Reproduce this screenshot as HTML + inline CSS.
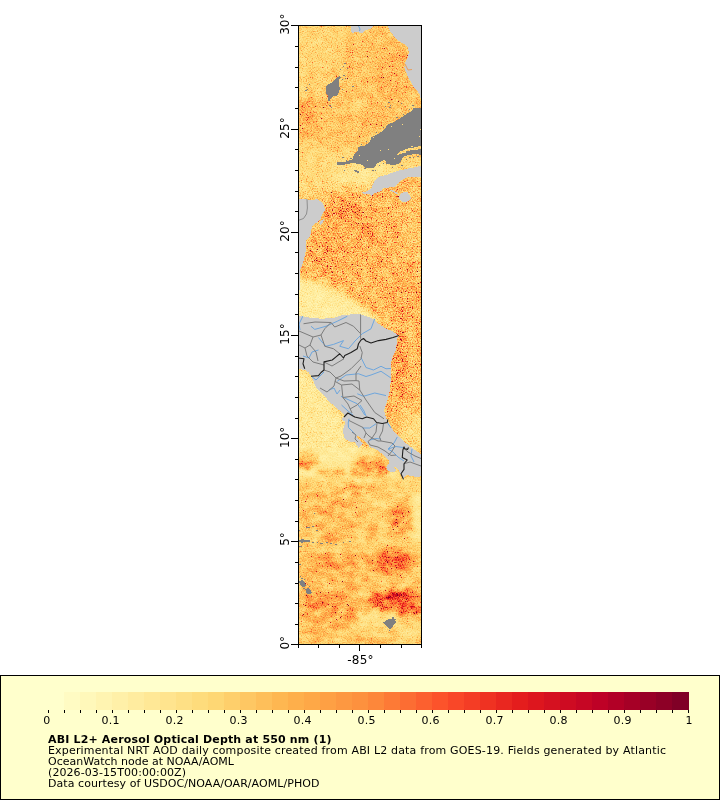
<!DOCTYPE html>
<html><head><meta charset="utf-8"><title>ABI L2+ Aerosol Optical Depth at 550 nm</title>
<style>
html,body{margin:0;padding:0;background:#fff;}
body{width:720px;height:800px;overflow:hidden;position:relative;font-family:"DejaVu Sans","Liberation Sans",sans-serif;}
svg{position:absolute;left:0;top:0;}
text{font-family:"DejaVu Sans","Liberation Sans",sans-serif;fill:#000;}
</style></head><body>
<svg width="720" height="800" viewBox="0 0 720 800">

<defs>
<clipPath id="plotclip"><rect x="298" y="25" width="124" height="620"/></clipPath>
<clipPath id="clipA"><rect x="298" y="25" width="124" height="155"/></clipPath>
<clipPath id="clipB"><rect x="298" y="180" width="124" height="268"/></clipPath>
<clipPath id="clipC"><rect x="298" y="448" width="124" height="197"/></clipPath>
<filter id="bl" x="270" y="0" width="180" height="670" filterUnits="userSpaceOnUse" color-interpolation-filters="sRGB"><feGaussianBlur stdDeviation="3.2"/></filter>
<filter id="bl2" x="270" y="0" width="180" height="670" filterUnits="userSpaceOnUse" color-interpolation-filters="sRGB"><feGaussianBlur stdDeviation="1.1"/></filter>
<filter id="palA" x="290" y="17" width="140" height="636" filterUnits="userSpaceOnUse" color-interpolation-filters="sRGB">
<feTurbulence type="fractalNoise" baseFrequency="0.8" numOctaves="1" seed="7" result="t1"/>
<feColorMatrix in="t1" type="matrix" values="1 0 0 0 0  1 0 0 0 0  1 0 0 0 0  0 0 0 0 1" result="n1"/>
<feComponentTransfer in="n1" result="n1s"><feFuncR type="table" tableValues="0.1800 0.1800 0.1800 0.1800 0.1800 0.1800 0.1875 0.2000 0.2150 0.2300 0.2500 0.2750 0.3050 0.3500 0.4125 0.5000 0.6250 0.7500 0.8500 0.8500 0.8500"/><feFuncG type="table" tableValues="0.1800 0.1800 0.1800 0.1800 0.1800 0.1800 0.1875 0.2000 0.2150 0.2300 0.2500 0.2750 0.3050 0.3500 0.4125 0.5000 0.6250 0.7500 0.8500 0.8500 0.8500"/><feFuncB type="table" tableValues="0.1800 0.1800 0.1800 0.1800 0.1800 0.1800 0.1875 0.2000 0.2150 0.2300 0.2500 0.2750 0.3050 0.3500 0.4125 0.5000 0.6250 0.7500 0.8500 0.8500 0.8500"/></feComponentTransfer>
<feTurbulence type="fractalNoise" baseFrequency="0.13" numOctaves="3" seed="11" result="t2"/>
<feColorMatrix in="t2" type="matrix" values="0 1 0 0 0  0 1 0 0 0  0 1 0 0 0  0 0 0 0 1" result="n2"/>
<feComposite in="SourceGraphic" in2="n2" operator="arithmetic" k1="0.7" k2="0.65" k3="0" k4="0" result="v1"/>
<feComposite in="v1" in2="n1s" operator="arithmetic" k1="4" k2="0" k3="0.0" k4="0" result="v2"/>
<feComponentTransfer in="v2"><feFuncR type="table" tableValues="1.0000 1.0000 0.9961 0.9961 0.9922 0.9882 0.8902 0.7412 0.5020"/><feFuncG type="table" tableValues="1.0000 0.9294 0.8510 0.6980 0.5529 0.3059 0.1020 0.0000 0.0000"/><feFuncB type="table" tableValues="0.8000 0.6275 0.4627 0.2980 0.2353 0.1647 0.1098 0.1490 0.1490"/></feComponentTransfer>
</filter>
<filter id="palB" x="290" y="17" width="140" height="636" filterUnits="userSpaceOnUse" color-interpolation-filters="sRGB">
<feTurbulence type="fractalNoise" baseFrequency="0.8" numOctaves="1" seed="7" result="t1"/>
<feColorMatrix in="t1" type="matrix" values="1 0 0 0 0  1 0 0 0 0  1 0 0 0 0  0 0 0 0 1" result="n1"/>
<feComponentTransfer in="n1" result="n1s"><feFuncR type="table" tableValues="0.1400 0.1400 0.1400 0.1400 0.1400 0.1450 0.1575 0.1725 0.1925 0.2200 0.2500 0.2850 0.3300 0.3875 0.4625 0.5500 0.6500 0.7500 0.8500 0.8500 0.8500"/><feFuncG type="table" tableValues="0.1400 0.1400 0.1400 0.1400 0.1400 0.1450 0.1575 0.1725 0.1925 0.2200 0.2500 0.2850 0.3300 0.3875 0.4625 0.5500 0.6500 0.7500 0.8500 0.8500 0.8500"/><feFuncB type="table" tableValues="0.1400 0.1400 0.1400 0.1400 0.1400 0.1450 0.1575 0.1725 0.1925 0.2200 0.2500 0.2850 0.3300 0.3875 0.4625 0.5500 0.6500 0.7500 0.8500 0.8500 0.8500"/></feComponentTransfer>
<feTurbulence type="fractalNoise" baseFrequency="0.13" numOctaves="3" seed="11" result="t2"/>
<feColorMatrix in="t2" type="matrix" values="0 1 0 0 0  0 1 0 0 0  0 1 0 0 0  0 0 0 0 1" result="n2"/>
<feComposite in="SourceGraphic" in2="n2" operator="arithmetic" k1="0.9" k2="0.55" k3="0" k4="0" result="v1"/>
<feComposite in="v1" in2="n1s" operator="arithmetic" k1="4" k2="0" k3="0.0" k4="0" result="v2"/>
<feComponentTransfer in="v2"><feFuncR type="table" tableValues="1.0000 1.0000 0.9961 0.9961 0.9922 0.9882 0.8902 0.7412 0.5020"/><feFuncG type="table" tableValues="1.0000 0.9294 0.8510 0.6980 0.5529 0.3059 0.1020 0.0000 0.0000"/><feFuncB type="table" tableValues="0.8000 0.6275 0.4627 0.2980 0.2353 0.1647 0.1098 0.1490 0.1490"/></feComponentTransfer>
</filter>
<filter id="palC" x="290" y="17" width="140" height="636" filterUnits="userSpaceOnUse" color-interpolation-filters="sRGB">
<feTurbulence type="fractalNoise" baseFrequency="0.8" numOctaves="1" seed="7" result="t1"/>
<feColorMatrix in="t1" type="matrix" values="1 0 0 0 0  1 0 0 0 0  1 0 0 0 0  0 0 0 0 1" result="n1"/>
<feComponentTransfer in="n1" result="n1s"><feFuncR type="table" tableValues="0.1900 0.1900 0.1900 0.1900 0.1900 0.1900 0.1950 0.2050 0.2175 0.2325 0.2500 0.2675 0.2875 0.3175 0.3625 0.4375 0.5500 0.7000 0.8000 0.8000 0.8000"/><feFuncG type="table" tableValues="0.1900 0.1900 0.1900 0.1900 0.1900 0.1900 0.1950 0.2050 0.2175 0.2325 0.2500 0.2675 0.2875 0.3175 0.3625 0.4375 0.5500 0.7000 0.8000 0.8000 0.8000"/><feFuncB type="table" tableValues="0.1900 0.1900 0.1900 0.1900 0.1900 0.1900 0.1950 0.2050 0.2175 0.2325 0.2500 0.2675 0.2875 0.3175 0.3625 0.4375 0.5500 0.7000 0.8000 0.8000 0.8000"/></feComponentTransfer>
<feTurbulence type="fractalNoise" baseFrequency="0.09 0.13" numOctaves="3" seed="5" result="t2"/>
<feColorMatrix in="t2" type="matrix" values="0 1 0 0 0  0 1 0 0 0  0 1 0 0 0  0 0 0 0 1" result="n2"/>
<feComposite in="SourceGraphic" in2="n2" operator="arithmetic" k1="1.1" k2="0.44999999999999996" k3="0" k4="0" result="v1"/>
<feComposite in="v1" in2="n1s" operator="arithmetic" k1="4" k2="0" k3="0.0" k4="0" result="v2"/>
<feComponentTransfer in="v2"><feFuncR type="table" tableValues="1.0000 1.0000 0.9961 0.9961 0.9922 0.9882 0.8902 0.7412 0.5020"/><feFuncG type="table" tableValues="1.0000 0.9294 0.8510 0.6980 0.5529 0.3059 0.1020 0.0000 0.0000"/><feFuncB type="table" tableValues="0.8000 0.6275 0.4627 0.2980 0.2353 0.1647 0.1098 0.1490 0.1490"/></feComponentTransfer>
</filter>
</defs>
<g clip-path="url(#plotclip)">
<defs><g id="fld"><g filter="url(#bl)">
<rect x="270" y="0" width="180" height="670" fill="#4c4c4c"/>
<rect x="290" y="15" width="150" height="150" fill="#434343"/>
<polygon points="352,15 430,15 430,112 384,124 352,146 330,158 290,165 290,98 325,96 340,70" fill="#4c4c4c"/>
<ellipse cx="394" cy="72" rx="18" ry="30" fill="#555555"/>
<ellipse cx="306" cy="116" rx="11" ry="18" fill="#5e5e5e"/>
<ellipse cx="316" cy="45" rx="20" ry="28" fill="#3e3e3e"/>
<ellipse cx="355" cy="106" rx="8" ry="7" fill="#3e3e3e"/>
<ellipse cx="376" cy="118" rx="20" ry="10" fill="#555555" transform="rotate(-25 376 118)"/>
<polygon points="290,140 335,150 370,160 425,160 425,170 400,178 370,195 330,200 290,200" fill="#3a3a3a"/>
<ellipse cx="362" cy="176" rx="34" ry="10" fill="#2a2a2a" transform="rotate(-8 362 176)"/>
<polygon points="322,187 345,184 372,186 410,172 430,172 430,200 300,200" fill="#464646"/>
<polygon points="322,197 345,193 370,195 410,178 430,178 430,330 400,335 372,312 340,300 300,280 300,270 312,226 322,214" fill="#555555"/>
<ellipse cx="415" cy="225" rx="16" ry="40" fill="#4c4c4c"/>
<ellipse cx="345" cy="212" rx="18" ry="10" fill="#6b6b6b"/>
<ellipse cx="366" cy="236" rx="10" ry="12" fill="#666666"/>
<ellipse cx="328" cy="250" rx="20" ry="25" fill="#5c5c5c"/>
<ellipse cx="405" cy="300" rx="18" ry="20" fill="#5b5b5b"/>
<polygon points="290,274 324,284 350,298 384,321 290,324" fill="#202020"/>
<polygon points="392,318 430,318 430,470 410,455 395,436 385,412 388,385 390,350" fill="#4f4f4f"/>
<ellipse cx="400" cy="365" rx="8" ry="40" fill="#666666"/>
<ellipse cx="396" cy="410" rx="8" ry="14" fill="#575757"/>
<ellipse cx="412" cy="436" rx="12" ry="24" fill="#383838"/>
<polygon points="290,370 312,376 345,416 345,440 360,445 390,462 402,480 430,480 430,500 290,500" fill="#252525"/>
<rect x="290" y="478" width="145" height="180" fill="#454545"/>
<ellipse cx="330" cy="512" rx="34" ry="22" fill="#4f4f4f"/>
<ellipse cx="332" cy="568" rx="38" ry="22" fill="#545454"/>
<ellipse cx="334" cy="608" rx="40" ry="20" fill="#595959"/>
<ellipse cx="392" cy="562" rx="25" ry="13" fill="#666666"/>
<ellipse cx="397" cy="600" rx="26" ry="12" fill="#757575"/>
<ellipse cx="401" cy="520" rx="13" ry="16" fill="#575757"/>
<ellipse cx="418" cy="515" rx="6" ry="30" fill="#262626"/>
<ellipse cx="375" cy="618" rx="20" ry="8" fill="#303030"/>
<ellipse cx="408" cy="631" rx="14" ry="8" fill="#363636"/>
<ellipse cx="306" cy="460" rx="11" ry="9" fill="#4c4c4c"/>
<ellipse cx="370" cy="467" rx="20" ry="10" fill="#525252"/>
<ellipse cx="330" cy="472" rx="14" ry="4" fill="#454545"/>
<ellipse cx="353" cy="491" rx="8" ry="8" fill="#4c4c4c"/>
</g>
<g filter="url(#bl2)">
<ellipse cx="311.7" cy="457.1" rx="5.5" ry="2.0" fill="#636363" fill-opacity="0.8" transform="rotate(-6 311.7 457.1)"/>
<ellipse cx="305.8" cy="465.2" rx="3.0" ry="2.0" fill="#6c6c6c" fill-opacity="0.8" transform="rotate(-3 305.8 465.2)"/>
<ellipse cx="298.5" cy="461.7" rx="7.7" ry="1.9" fill="#595959" fill-opacity="0.8" transform="rotate(-25 298.5 461.7)"/>
<ellipse cx="302.0" cy="460.0" rx="5.5" ry="1.6" fill="#676767" fill-opacity="0.8" transform="rotate(-25 302.0 460.0)"/>
<ellipse cx="313.1" cy="461.9" rx="6.2" ry="1.5" fill="#656565" fill-opacity="0.8" transform="rotate(10 313.1 461.9)"/>
<ellipse cx="304.0" cy="464.5" rx="6.6" ry="2.9" fill="#6e6e6e" fill-opacity="0.8" transform="rotate(-16 304.0 464.5)"/>
<ellipse cx="303.5" cy="462.4" rx="7.4" ry="2.7" fill="#6d6d6d" fill-opacity="0.8" transform="rotate(-12 303.5 462.4)"/>
<ellipse cx="302.4" cy="465.8" rx="5.1" ry="1.5" fill="#646464" fill-opacity="0.8" transform="rotate(-10 302.4 465.8)"/>
<ellipse cx="304.7" cy="460.0" rx="5.5" ry="2.6" fill="#737373" fill-opacity="0.8" transform="rotate(-12 304.7 460.0)"/>
<ellipse cx="308.7" cy="459.3" rx="3.9" ry="2.1" fill="#787878" fill-opacity="0.8" transform="rotate(9 308.7 459.3)"/>
<ellipse cx="313.5" cy="456.7" rx="5.6" ry="2.9" fill="#5c5c5c" fill-opacity="0.8" transform="rotate(-9 313.5 456.7)"/>
<ellipse cx="307.9" cy="468.3" rx="3.0" ry="2.6" fill="#5f5f5f" fill-opacity="0.8" transform="rotate(2 307.9 468.3)"/>
<ellipse cx="339.4" cy="473.4" rx="5.7" ry="1.3" fill="#545454" fill-opacity="0.8" transform="rotate(-8 339.4 473.4)"/>
<ellipse cx="320.4" cy="471.6" rx="4.6" ry="1.7" fill="#585858" fill-opacity="0.8" transform="rotate(10 320.4 471.6)"/>
<ellipse cx="328.5" cy="470.6" rx="3.1" ry="1.0" fill="#5a5a5a" fill-opacity="0.8" transform="rotate(-14 328.5 470.6)"/>
<ellipse cx="341.0" cy="472.2" rx="5.2" ry="1.2" fill="#525252" fill-opacity="0.8" transform="rotate(-34 341.0 472.2)"/>
<ellipse cx="330.3" cy="475.0" rx="5.7" ry="1.2" fill="#505050" fill-opacity="0.8" transform="rotate(5 330.3 475.0)"/>
<ellipse cx="341.4" cy="473.6" rx="6.2" ry="1.4" fill="#4e4e4e" fill-opacity="0.8" transform="rotate(9 341.4 473.6)"/>
<ellipse cx="337.1" cy="473.3" rx="4.8" ry="1.5" fill="#595959" fill-opacity="0.8" transform="rotate(-13 337.1 473.3)"/>
<ellipse cx="339.3" cy="471.1" rx="6.5" ry="1.9" fill="#585858" fill-opacity="0.8" transform="rotate(-14 339.3 471.1)"/>
<ellipse cx="360.0" cy="467.9" rx="4.8" ry="2.3" fill="#5f5f5f" fill-opacity="0.8" transform="rotate(-7 360.0 467.9)"/>
<ellipse cx="382.8" cy="462.2" rx="4.2" ry="3.0" fill="#5c5c5c" fill-opacity="0.8" transform="rotate(-14 382.8 462.2)"/>
<ellipse cx="375.3" cy="460.0" rx="6.2" ry="2.8" fill="#606060" fill-opacity="0.8" transform="rotate(-11 375.3 460.0)"/>
<ellipse cx="373.5" cy="463.0" rx="3.2" ry="2.8" fill="#6f6f6f" fill-opacity="0.8" transform="rotate(-14 373.5 463.0)"/>
<ellipse cx="378.1" cy="475.4" rx="5.0" ry="2.6" fill="#5a5a5a" fill-opacity="0.8" transform="rotate(-15 378.1 475.4)"/>
<ellipse cx="367.6" cy="469.5" rx="4.5" ry="2.1" fill="#6e6e6e" fill-opacity="0.8" transform="rotate(-18 367.6 469.5)"/>
<ellipse cx="373.2" cy="475.1" rx="6.4" ry="2.9" fill="#5e5e5e" fill-opacity="0.8" transform="rotate(4 373.2 475.1)"/>
<ellipse cx="357.2" cy="474.2" rx="7.8" ry="2.8" fill="#545454" fill-opacity="0.8" transform="rotate(-9 357.2 474.2)"/>
<ellipse cx="382.6" cy="468.5" rx="4.4" ry="1.3" fill="#616161" fill-opacity="0.8" transform="rotate(3 382.6 468.5)"/>
<ellipse cx="381.4" cy="465.2" rx="3.8" ry="1.7" fill="#626262" fill-opacity="0.8" transform="rotate(-0 381.4 465.2)"/>
<ellipse cx="374.4" cy="457.9" rx="6.6" ry="1.8" fill="#585858" fill-opacity="0.8" transform="rotate(5 374.4 457.9)"/>
<ellipse cx="353.9" cy="469.0" rx="3.2" ry="1.6" fill="#585858" fill-opacity="0.8" transform="rotate(-17 353.9 469.0)"/>
<ellipse cx="362.9" cy="476.2" rx="7.5" ry="1.9" fill="#565656" fill-opacity="0.8" transform="rotate(-14 362.9 476.2)"/>
<ellipse cx="373.6" cy="468.2" rx="6.1" ry="2.9" fill="#727272" fill-opacity="0.8" transform="rotate(-12 373.6 468.2)"/>
<ellipse cx="360.0" cy="463.0" rx="7.9" ry="2.1" fill="#5e5e5e" fill-opacity="0.8" transform="rotate(-10 360.0 463.0)"/>
<ellipse cx="373.0" cy="457.4" rx="6.1" ry="2.3" fill="#565656" fill-opacity="0.8" transform="rotate(-32 373.0 457.4)"/>
<ellipse cx="376.8" cy="464.1" rx="6.5" ry="2.5" fill="#666666" fill-opacity="0.8" transform="rotate(-34 376.8 464.1)"/>
<ellipse cx="368.3" cy="468.9" rx="4.6" ry="1.9" fill="#717171" fill-opacity="0.8" transform="rotate(-21 368.3 468.9)"/>
<ellipse cx="362.4" cy="464.5" rx="6.9" ry="1.2" fill="#6a6a6a" fill-opacity="0.8" transform="rotate(-9 362.4 464.5)"/>
<ellipse cx="359.5" cy="473.1" rx="4.2" ry="1.5" fill="#595959" fill-opacity="0.8" transform="rotate(-15 359.5 473.1)"/>
<ellipse cx="363.2" cy="463.7" rx="7.2" ry="2.0" fill="#646464" fill-opacity="0.8" transform="rotate(3 363.2 463.7)"/>
<ellipse cx="375.7" cy="474.7" rx="5.3" ry="1.6" fill="#595959" fill-opacity="0.8" transform="rotate(-30 375.7 474.7)"/>
<ellipse cx="381.7" cy="473.8" rx="3.9" ry="1.7" fill="#5b5b5b" fill-opacity="0.8" transform="rotate(1 381.7 473.8)"/>
<ellipse cx="364.1" cy="459.6" rx="4.5" ry="2.6" fill="#5b5b5b" fill-opacity="0.8" transform="rotate(-23 364.1 459.6)"/>
<ellipse cx="367.0" cy="465.2" rx="7.6" ry="1.5" fill="#7a7a7a" fill-opacity="0.8" transform="rotate(-35 367.0 465.2)"/>
<ellipse cx="388.5" cy="465.7" rx="7.8" ry="2.9" fill="#585858" fill-opacity="0.8" transform="rotate(-25 388.5 465.7)"/>
<ellipse cx="376.2" cy="467.4" rx="4.4" ry="1.8" fill="#696969" fill-opacity="0.8" transform="rotate(-25 376.2 467.4)"/>
<ellipse cx="361.9" cy="473.2" rx="3.2" ry="2.8" fill="#636363" fill-opacity="0.8" transform="rotate(-4 361.9 473.2)"/>
<ellipse cx="381.9" cy="466.8" rx="2.8" ry="1.2" fill="#8b8b8b" fill-opacity="0.8" transform="rotate(-32 381.9 466.8)"/>
<ellipse cx="386.4" cy="472.1" rx="2.4" ry="1.5" fill="#898989" fill-opacity="0.8" transform="rotate(-23 386.4 472.1)"/>
<ellipse cx="386.6" cy="472.5" rx="3.6" ry="1.2" fill="#8c8c8c" fill-opacity="0.8" transform="rotate(-21 386.6 472.5)"/>
<ellipse cx="380.7" cy="470.8" rx="3.3" ry="1.5" fill="#888888" fill-opacity="0.8" transform="rotate(-27 380.7 470.8)"/>
<ellipse cx="384.4" cy="468.4" rx="3.8" ry="1.6" fill="#a8a8a8" fill-opacity="0.8" transform="rotate(5 384.4 468.4)"/>
<ellipse cx="354.7" cy="494.4" rx="7.0" ry="2.9" fill="#626262" fill-opacity="0.8" transform="rotate(-2 354.7 494.4)"/>
<ellipse cx="352.5" cy="497.2" rx="6.2" ry="2.8" fill="#565656" fill-opacity="0.8" transform="rotate(-30 352.5 497.2)"/>
<ellipse cx="353.6" cy="492.0" rx="3.1" ry="1.6" fill="#727272" fill-opacity="0.8" transform="rotate(-22 353.6 492.0)"/>
<ellipse cx="348.2" cy="495.2" rx="3.7" ry="2.3" fill="#585858" fill-opacity="0.8" transform="rotate(-29 348.2 495.2)"/>
<ellipse cx="348.9" cy="487.0" rx="7.9" ry="2.8" fill="#5b5b5b" fill-opacity="0.8" transform="rotate(-22 348.9 487.0)"/>
<ellipse cx="355.5" cy="486.9" rx="7.7" ry="2.4" fill="#5e5e5e" fill-opacity="0.8" transform="rotate(8 355.5 486.9)"/>
<ellipse cx="351.1" cy="486.3" rx="3.7" ry="1.3" fill="#5a5a5a" fill-opacity="0.8" transform="rotate(-21 351.1 486.3)"/>
<ellipse cx="355.5" cy="488.7" rx="4.5" ry="2.7" fill="#626262" fill-opacity="0.8" transform="rotate(-13 355.5 488.7)"/>
<ellipse cx="355.9" cy="484.8" rx="7.9" ry="1.2" fill="#535353" fill-opacity="0.8" transform="rotate(-1 355.9 484.8)"/>
<ellipse cx="357.0" cy="489.1" rx="5.9" ry="1.2" fill="#5f5f5f" fill-opacity="0.8" transform="rotate(-33 357.0 489.1)"/>
<ellipse cx="345.6" cy="521.6" rx="5.4" ry="1.7" fill="#535353" fill-opacity="0.8" transform="rotate(-35 345.6 521.6)"/>
<ellipse cx="343.6" cy="505.4" rx="6.9" ry="1.7" fill="#5c5c5c" fill-opacity="0.8" transform="rotate(1 343.6 505.4)"/>
<ellipse cx="330.3" cy="516.6" rx="4.0" ry="2.2" fill="#616161" fill-opacity="0.8" transform="rotate(1 330.3 516.6)"/>
<ellipse cx="339.1" cy="522.4" rx="4.7" ry="1.4" fill="#565656" fill-opacity="0.8" transform="rotate(1 339.1 522.4)"/>
<ellipse cx="336.1" cy="502.5" rx="7.8" ry="2.3" fill="#5e5e5e" fill-opacity="0.8" transform="rotate(-26 336.1 502.5)"/>
<ellipse cx="328.9" cy="515.2" rx="6.5" ry="2.6" fill="#5e5e5e" fill-opacity="0.8" transform="rotate(9 328.9 515.2)"/>
<ellipse cx="334.1" cy="503.0" rx="5.9" ry="1.4" fill="#5d5d5d" fill-opacity="0.8" transform="rotate(5 334.1 503.0)"/>
<ellipse cx="337.8" cy="503.2" rx="4.0" ry="2.1" fill="#5d5d5d" fill-opacity="0.8" transform="rotate(-29 337.8 503.2)"/>
<ellipse cx="318.0" cy="524.6" rx="6.1" ry="1.8" fill="#515151" fill-opacity="0.8" transform="rotate(-18 318.0 524.6)"/>
<ellipse cx="323.4" cy="518.9" rx="5.0" ry="3.0" fill="#626262" fill-opacity="0.8" transform="rotate(-24 323.4 518.9)"/>
<ellipse cx="338.2" cy="524.0" rx="5.2" ry="2.7" fill="#535353" fill-opacity="0.8" transform="rotate(1 338.2 524.0)"/>
<ellipse cx="340.3" cy="506.7" rx="3.4" ry="2.5" fill="#606060" fill-opacity="0.8" transform="rotate(-23 340.3 506.7)"/>
<ellipse cx="305.4" cy="513.2" rx="4.8" ry="1.7" fill="#565656" fill-opacity="0.8" transform="rotate(-15 305.4 513.2)"/>
<ellipse cx="322.6" cy="523.7" rx="6.1" ry="1.7" fill="#535353" fill-opacity="0.8" transform="rotate(-14 322.6 523.7)"/>
<ellipse cx="320.6" cy="503.0" rx="7.0" ry="1.8" fill="#656565" fill-opacity="0.8" transform="rotate(-5 320.6 503.0)"/>
<ellipse cx="320.6" cy="513.7" rx="4.6" ry="1.9" fill="#686868" fill-opacity="0.8" transform="rotate(-13 320.6 513.7)"/>
<ellipse cx="325.0" cy="494.1" rx="3.2" ry="2.6" fill="#525252" fill-opacity="0.8" transform="rotate(-30 325.0 494.1)"/>
<ellipse cx="354.8" cy="514.1" rx="5.1" ry="2.6" fill="#515151" fill-opacity="0.8" transform="rotate(2 354.8 514.1)"/>
<ellipse cx="304.0" cy="505.0" rx="3.7" ry="2.3" fill="#535353" fill-opacity="0.8" transform="rotate(-8 304.0 505.0)"/>
<ellipse cx="336.7" cy="508.7" rx="7.5" ry="2.3" fill="#616161" fill-opacity="0.8" transform="rotate(-3 336.7 508.7)"/>
<ellipse cx="303.0" cy="514.3" rx="7.6" ry="2.8" fill="#545454" fill-opacity="0.8" transform="rotate(5 303.0 514.3)"/>
<ellipse cx="345.5" cy="496.9" rx="7.7" ry="2.8" fill="#515151" fill-opacity="0.8" transform="rotate(-15 345.5 496.9)"/>
<ellipse cx="314.6" cy="517.6" rx="3.3" ry="2.6" fill="#5b5b5b" fill-opacity="0.8" transform="rotate(9 314.6 517.6)"/>
<ellipse cx="323.8" cy="525.2" rx="3.2" ry="1.4" fill="#545454" fill-opacity="0.8" transform="rotate(2 323.8 525.2)"/>
<ellipse cx="320.2" cy="493.9" rx="8.0" ry="2.6" fill="#505050" fill-opacity="0.8" transform="rotate(8 320.2 493.9)"/>
<ellipse cx="302.7" cy="518.3" rx="3.6" ry="2.2" fill="#4e4e4e" fill-opacity="0.8" transform="rotate(-14 302.7 518.3)"/>
<ellipse cx="302.4" cy="510.7" rx="3.2" ry="2.1" fill="#515151" fill-opacity="0.8" transform="rotate(-28 302.4 510.7)"/>
<ellipse cx="332.1" cy="506.0" rx="4.1" ry="1.6" fill="#686868" fill-opacity="0.8" transform="rotate(-10 332.1 506.0)"/>
<ellipse cx="307.8" cy="503.4" rx="4.2" ry="2.2" fill="#545454" fill-opacity="0.8" transform="rotate(0 307.8 503.4)"/>
<ellipse cx="317.5" cy="505.7" rx="5.2" ry="1.9" fill="#616161" fill-opacity="0.8" transform="rotate(10 317.5 505.7)"/>
<ellipse cx="341.0" cy="515.2" rx="7.0" ry="1.9" fill="#5e5e5e" fill-opacity="0.8" transform="rotate(-5 341.0 515.2)"/>
<ellipse cx="335.5" cy="505.8" rx="3.3" ry="1.3" fill="#606060" fill-opacity="0.8" transform="rotate(-1 335.5 505.8)"/>
<ellipse cx="304.0" cy="505.2" rx="3.2" ry="2.2" fill="#535353" fill-opacity="0.8" transform="rotate(0 304.0 505.2)"/>
<ellipse cx="353.3" cy="502.6" rx="5.4" ry="2.5" fill="#515151" fill-opacity="0.8" transform="rotate(4 353.3 502.6)"/>
<ellipse cx="353.2" cy="519.0" rx="6.4" ry="2.5" fill="#4f4f4f" fill-opacity="0.8" transform="rotate(-6 353.2 519.0)"/>
<ellipse cx="310.1" cy="522.9" rx="6.9" ry="2.6" fill="#505050" fill-opacity="0.8" transform="rotate(-25 310.1 522.9)"/>
<ellipse cx="345.4" cy="518.8" rx="8.0" ry="2.5" fill="#555555" fill-opacity="0.8" transform="rotate(-4 345.4 518.8)"/>
<ellipse cx="333.7" cy="493.2" rx="4.8" ry="1.4" fill="#525252" fill-opacity="0.8" transform="rotate(8 333.7 493.2)"/>
<ellipse cx="354.9" cy="507.7" rx="7.2" ry="1.3" fill="#4f4f4f" fill-opacity="0.8" transform="rotate(-29 354.9 507.7)"/>
<ellipse cx="303.3" cy="513.3" rx="4.4" ry="1.4" fill="#555555" fill-opacity="0.8" transform="rotate(-16 303.3 513.3)"/>
<ellipse cx="321.0" cy="513.4" rx="5.8" ry="2.3" fill="#5f5f5f" fill-opacity="0.8" transform="rotate(-13 321.0 513.4)"/>
<ellipse cx="351.3" cy="498.9" rx="5.2" ry="2.7" fill="#515151" fill-opacity="0.8" transform="rotate(-9 351.3 498.9)"/>
<ellipse cx="328.8" cy="496.3" rx="6.0" ry="2.1" fill="#575757" fill-opacity="0.8" transform="rotate(4 328.8 496.3)"/>
<ellipse cx="346.7" cy="508.9" rx="7.2" ry="2.8" fill="#5e5e5e" fill-opacity="0.8" transform="rotate(-28 346.7 508.9)"/>
<ellipse cx="349.3" cy="504.2" rx="4.3" ry="1.4" fill="#565656" fill-opacity="0.8" transform="rotate(-18 349.3 504.2)"/>
<ellipse cx="303.0" cy="514.4" rx="6.8" ry="2.9" fill="#515151" fill-opacity="0.8" transform="rotate(-31 303.0 514.4)"/>
<ellipse cx="329.2" cy="526.3" rx="5.6" ry="2.6" fill="#545454" fill-opacity="0.8" transform="rotate(-13 329.2 526.3)"/>
<ellipse cx="348.5" cy="513.3" rx="7.3" ry="2.4" fill="#545454" fill-opacity="0.8" transform="rotate(1 348.5 513.3)"/>
<ellipse cx="304.6" cy="513.7" rx="6.6" ry="1.5" fill="#555555" fill-opacity="0.8" transform="rotate(-12 304.6 513.7)"/>
<ellipse cx="344.7" cy="495.1" rx="7.9" ry="2.4" fill="#4d4d4d" fill-opacity="0.8" transform="rotate(-29 344.7 495.1)"/>
<ellipse cx="396.8" cy="509.5" rx="6.3" ry="1.3" fill="#606060" fill-opacity="0.8" transform="rotate(-43 396.8 509.5)"/>
<ellipse cx="401.2" cy="506.1" rx="5.2" ry="1.3" fill="#616161" fill-opacity="0.8" transform="rotate(-65 401.2 506.1)"/>
<ellipse cx="392.0" cy="511.7" rx="6.1" ry="2.9" fill="#626262" fill-opacity="0.8" transform="rotate(-41 392.0 511.7)"/>
<ellipse cx="396.0" cy="509.3" rx="3.6" ry="1.8" fill="#626262" fill-opacity="0.8" transform="rotate(-29 396.0 509.3)"/>
<ellipse cx="404.3" cy="516.2" rx="5.7" ry="1.3" fill="#747474" fill-opacity="0.8" transform="rotate(-67 404.3 516.2)"/>
<ellipse cx="399.3" cy="514.4" rx="5.9" ry="2.0" fill="#7c7c7c" fill-opacity="0.8" transform="rotate(-55 399.3 514.4)"/>
<ellipse cx="394.9" cy="522.2" rx="5.6" ry="2.8" fill="#727272" fill-opacity="0.8" transform="rotate(-34 394.9 522.2)"/>
<ellipse cx="391.8" cy="517.5" rx="6.8" ry="1.5" fill="#646464" fill-opacity="0.8" transform="rotate(-46 391.8 517.5)"/>
<ellipse cx="407.3" cy="522.2" rx="7.4" ry="1.8" fill="#717171" fill-opacity="0.8" transform="rotate(-35 407.3 522.2)"/>
<ellipse cx="399.9" cy="530.2" rx="7.7" ry="2.1" fill="#686868" fill-opacity="0.8" transform="rotate(-37 399.9 530.2)"/>
<ellipse cx="408.7" cy="513.5" rx="4.9" ry="2.4" fill="#626262" fill-opacity="0.8" transform="rotate(-69 408.7 513.5)"/>
<ellipse cx="407.4" cy="508.9" rx="4.2" ry="1.9" fill="#5d5d5d" fill-opacity="0.8" transform="rotate(-26 407.4 508.9)"/>
<ellipse cx="402.2" cy="531.5" rx="7.1" ry="2.8" fill="#636363" fill-opacity="0.8" transform="rotate(-56 402.2 531.5)"/>
<ellipse cx="392.6" cy="510.3" rx="4.2" ry="1.6" fill="#5b5b5b" fill-opacity="0.8" transform="rotate(-46 392.6 510.3)"/>
<ellipse cx="397.9" cy="522.0" rx="7.8" ry="2.4" fill="#7e7e7e" fill-opacity="0.8" transform="rotate(-44 397.9 522.0)"/>
<ellipse cx="407.7" cy="531.2" rx="7.0" ry="1.9" fill="#5e5e5e" fill-opacity="0.8" transform="rotate(-50 407.7 531.2)"/>
<ellipse cx="394.0" cy="509.9" rx="4.7" ry="1.3" fill="#5c5c5c" fill-opacity="0.8" transform="rotate(-70 394.0 509.9)"/>
<ellipse cx="397.7" cy="505.8" rx="7.4" ry="2.3" fill="#5a5a5a" fill-opacity="0.8" transform="rotate(-63 397.7 505.8)"/>
<ellipse cx="397.7" cy="508.7" rx="7.2" ry="3.0" fill="#606060" fill-opacity="0.8" transform="rotate(-47 397.7 508.7)"/>
<ellipse cx="391.5" cy="515.3" rx="4.3" ry="2.7" fill="#646464" fill-opacity="0.8" transform="rotate(-62 391.5 515.3)"/>
<ellipse cx="401.7" cy="509.4" rx="5.7" ry="1.2" fill="#6e6e6e" fill-opacity="0.8" transform="rotate(-44 401.7 509.4)"/>
<ellipse cx="405.7" cy="512.8" rx="4.8" ry="1.5" fill="#6f6f6f" fill-opacity="0.8" transform="rotate(-31 405.7 512.8)"/>
<ellipse cx="396.9" cy="511.7" rx="7.1" ry="3.0" fill="#707070" fill-opacity="0.8" transform="rotate(-27 396.9 511.7)"/>
<ellipse cx="406.8" cy="511.8" rx="5.6" ry="1.8" fill="#626262" fill-opacity="0.8" transform="rotate(-69 406.8 511.8)"/>
<ellipse cx="395.2" cy="525.8" rx="7.8" ry="2.0" fill="#747474" fill-opacity="0.8" transform="rotate(-23 395.2 525.8)"/>
<ellipse cx="397.8" cy="511.6" rx="4.1" ry="1.6" fill="#707070" fill-opacity="0.8" transform="rotate(-60 397.8 511.6)"/>
<ellipse cx="306.6" cy="575.4" rx="3.4" ry="1.6" fill="#555555" fill-opacity="0.8" transform="rotate(10 306.6 575.4)"/>
<ellipse cx="329.2" cy="566.3" rx="5.5" ry="1.5" fill="#656565" fill-opacity="0.8" transform="rotate(2 329.2 566.3)"/>
<ellipse cx="325.7" cy="582.5" rx="4.9" ry="1.4" fill="#545454" fill-opacity="0.8" transform="rotate(-23 325.7 582.5)"/>
<ellipse cx="340.2" cy="563.6" rx="6.3" ry="1.8" fill="#666666" fill-opacity="0.8" transform="rotate(-4 340.2 563.6)"/>
<ellipse cx="359.3" cy="570.9" rx="3.7" ry="1.3" fill="#545454" fill-opacity="0.8" transform="rotate(8 359.3 570.9)"/>
<ellipse cx="362.3" cy="570.8" rx="6.6" ry="2.8" fill="#555555" fill-opacity="0.8" transform="rotate(-22 362.3 570.8)"/>
<ellipse cx="307.2" cy="577.5" rx="3.5" ry="2.4" fill="#565656" fill-opacity="0.8" transform="rotate(-3 307.2 577.5)"/>
<ellipse cx="332.2" cy="557.1" rx="3.8" ry="2.2" fill="#5c5c5c" fill-opacity="0.8" transform="rotate(-12 332.2 557.1)"/>
<ellipse cx="332.5" cy="575.2" rx="4.1" ry="1.6" fill="#606060" fill-opacity="0.8" transform="rotate(-34 332.5 575.2)"/>
<ellipse cx="326.8" cy="563.6" rx="7.2" ry="2.8" fill="#636363" fill-opacity="0.8" transform="rotate(-27 326.8 563.6)"/>
<ellipse cx="311.7" cy="577.6" rx="4.5" ry="1.2" fill="#545454" fill-opacity="0.8" transform="rotate(-1 311.7 577.6)"/>
<ellipse cx="327.6" cy="558.3" rx="5.1" ry="2.0" fill="#5e5e5e" fill-opacity="0.8" transform="rotate(-16 327.6 558.3)"/>
<ellipse cx="305.2" cy="568.8" rx="4.8" ry="2.7" fill="#5a5a5a" fill-opacity="0.8" transform="rotate(-12 305.2 568.8)"/>
<ellipse cx="307.5" cy="563.9" rx="5.9" ry="2.5" fill="#565656" fill-opacity="0.8" transform="rotate(-19 307.5 563.9)"/>
<ellipse cx="354.8" cy="557.6" rx="7.4" ry="1.3" fill="#575757" fill-opacity="0.8" transform="rotate(8 354.8 557.6)"/>
<ellipse cx="337.4" cy="556.4" rx="7.8" ry="2.0" fill="#5b5b5b" fill-opacity="0.8" transform="rotate(-31 337.4 556.4)"/>
<ellipse cx="330.2" cy="555.6" rx="3.6" ry="2.2" fill="#575757" fill-opacity="0.8" transform="rotate(-15 330.2 555.6)"/>
<ellipse cx="347.3" cy="575.8" rx="5.4" ry="1.9" fill="#585858" fill-opacity="0.8" transform="rotate(-19 347.3 575.8)"/>
<ellipse cx="328.3" cy="553.9" rx="6.6" ry="2.5" fill="#545454" fill-opacity="0.8" transform="rotate(-7 328.3 553.9)"/>
<ellipse cx="327.4" cy="553.4" rx="7.8" ry="2.6" fill="#545454" fill-opacity="0.8" transform="rotate(-12 327.4 553.4)"/>
<ellipse cx="313.6" cy="568.9" rx="6.7" ry="2.4" fill="#626262" fill-opacity="0.8" transform="rotate(-35 313.6 568.9)"/>
<ellipse cx="348.5" cy="583.4" rx="7.9" ry="1.6" fill="#535353" fill-opacity="0.8" transform="rotate(-22 348.5 583.4)"/>
<ellipse cx="323.1" cy="583.9" rx="7.3" ry="2.1" fill="#545454" fill-opacity="0.8" transform="rotate(-7 323.1 583.9)"/>
<ellipse cx="318.1" cy="580.4" rx="4.0" ry="1.9" fill="#565656" fill-opacity="0.8" transform="rotate(8 318.1 580.4)"/>
<ellipse cx="317.8" cy="572.1" rx="7.2" ry="2.4" fill="#656565" fill-opacity="0.8" transform="rotate(7 317.8 572.1)"/>
<ellipse cx="339.1" cy="563.0" rx="5.1" ry="2.1" fill="#676767" fill-opacity="0.8" transform="rotate(-11 339.1 563.0)"/>
<ellipse cx="302.7" cy="576.4" rx="4.4" ry="2.0" fill="#4f4f4f" fill-opacity="0.8" transform="rotate(-30 302.7 576.4)"/>
<ellipse cx="317.8" cy="579.0" rx="5.5" ry="1.7" fill="#575757" fill-opacity="0.8" transform="rotate(5 317.8 579.0)"/>
<ellipse cx="348.8" cy="559.0" rx="7.1" ry="2.3" fill="#5a5a5a" fill-opacity="0.8" transform="rotate(2 348.8 559.0)"/>
<ellipse cx="352.0" cy="564.0" rx="6.3" ry="2.6" fill="#606060" fill-opacity="0.8" transform="rotate(10 352.0 564.0)"/>
<ellipse cx="307.3" cy="572.0" rx="6.4" ry="1.4" fill="#5b5b5b" fill-opacity="0.8" transform="rotate(-14 307.3 572.0)"/>
<ellipse cx="339.3" cy="581.1" rx="6.3" ry="1.8" fill="#5b5b5b" fill-opacity="0.8" transform="rotate(-33 339.3 581.1)"/>
<ellipse cx="342.4" cy="563.2" rx="7.1" ry="2.7" fill="#636363" fill-opacity="0.8" transform="rotate(-2 342.4 563.2)"/>
<ellipse cx="318.2" cy="562.9" rx="4.6" ry="2.1" fill="#616161" fill-opacity="0.8" transform="rotate(-30 318.2 562.9)"/>
<ellipse cx="308.9" cy="559.2" rx="4.9" ry="2.0" fill="#525252" fill-opacity="0.8" transform="rotate(0 308.9 559.2)"/>
<ellipse cx="317.9" cy="556.4" rx="6.7" ry="1.4" fill="#595959" fill-opacity="0.8" transform="rotate(-33 317.9 556.4)"/>
<ellipse cx="354.1" cy="570.1" rx="4.6" ry="2.8" fill="#5b5b5b" fill-opacity="0.8" transform="rotate(-2 354.1 570.1)"/>
<ellipse cx="320.2" cy="564.7" rx="3.8" ry="2.6" fill="#686868" fill-opacity="0.8" transform="rotate(-32 320.2 564.7)"/>
<ellipse cx="339.7" cy="564.9" rx="7.7" ry="2.2" fill="#6d6d6d" fill-opacity="0.8" transform="rotate(5 339.7 564.9)"/>
<ellipse cx="364.9" cy="567.6" rx="4.8" ry="2.7" fill="#525252" fill-opacity="0.8" transform="rotate(-11 364.9 567.6)"/>
<ellipse cx="330.4" cy="554.6" rx="7.2" ry="2.1" fill="#5b5b5b" fill-opacity="0.8" transform="rotate(9 330.4 554.6)"/>
<ellipse cx="317.7" cy="557.8" rx="5.6" ry="2.6" fill="#585858" fill-opacity="0.8" transform="rotate(2 317.7 557.8)"/>
<ellipse cx="324.8" cy="551.3" rx="4.9" ry="2.9" fill="#525252" fill-opacity="0.8" transform="rotate(-19 324.8 551.3)"/>
<ellipse cx="307.7" cy="574.8" rx="3.4" ry="1.5" fill="#585858" fill-opacity="0.8" transform="rotate(-9 307.7 574.8)"/>
<ellipse cx="326.9" cy="572.7" rx="7.8" ry="1.4" fill="#626262" fill-opacity="0.8" transform="rotate(10 326.9 572.7)"/>
<ellipse cx="322.4" cy="584.1" rx="6.3" ry="2.1" fill="#515151" fill-opacity="0.8" transform="rotate(-27 322.4 584.1)"/>
<ellipse cx="321.5" cy="563.4" rx="7.0" ry="1.9" fill="#5c5c5c" fill-opacity="0.8" transform="rotate(-7 321.5 563.4)"/>
<ellipse cx="346.3" cy="582.1" rx="4.6" ry="1.3" fill="#525252" fill-opacity="0.8" transform="rotate(-25 346.3 582.1)"/>
<ellipse cx="336.2" cy="560.9" rx="6.2" ry="2.6" fill="#656565" fill-opacity="0.8" transform="rotate(0 336.2 560.9)"/>
<ellipse cx="315.7" cy="580.3" rx="4.4" ry="2.7" fill="#555555" fill-opacity="0.8" transform="rotate(-15 315.7 580.3)"/>
<ellipse cx="342.5" cy="562.3" rx="5.9" ry="2.5" fill="#626262" fill-opacity="0.8" transform="rotate(-19 342.5 562.3)"/>
<ellipse cx="330.0" cy="563.8" rx="5.7" ry="2.5" fill="#666666" fill-opacity="0.8" transform="rotate(-27 330.0 563.8)"/>
<ellipse cx="349.6" cy="557.8" rx="6.2" ry="1.7" fill="#545454" fill-opacity="0.8" transform="rotate(5 349.6 557.8)"/>
<ellipse cx="312.4" cy="561.3" rx="7.9" ry="2.5" fill="#5b5b5b" fill-opacity="0.8" transform="rotate(-2 312.4 561.3)"/>
<ellipse cx="320.4" cy="580.8" rx="5.1" ry="2.8" fill="#565656" fill-opacity="0.8" transform="rotate(-35 320.4 580.8)"/>
<ellipse cx="332.7" cy="567.3" rx="7.9" ry="2.5" fill="#757575" fill-opacity="0.8" transform="rotate(9 332.7 567.3)"/>
<ellipse cx="308.0" cy="555.3" rx="6.5" ry="2.9" fill="#505050" fill-opacity="0.8" transform="rotate(-5 308.0 555.3)"/>
<ellipse cx="342.7" cy="559.1" rx="6.5" ry="1.6" fill="#5a5a5a" fill-opacity="0.8" transform="rotate(-34 342.7 559.1)"/>
<ellipse cx="345.3" cy="558.1" rx="5.0" ry="2.4" fill="#5b5b5b" fill-opacity="0.8" transform="rotate(-23 345.3 558.1)"/>
<ellipse cx="325.6" cy="557.5" rx="6.5" ry="2.5" fill="#5f5f5f" fill-opacity="0.8" transform="rotate(-26 325.6 557.5)"/>
<ellipse cx="388.3" cy="558.7" rx="3.7" ry="2.8" fill="#989898" fill-opacity="0.8" transform="rotate(-35 388.3 558.7)"/>
<ellipse cx="370.7" cy="563.4" rx="6.1" ry="1.3" fill="#717171" fill-opacity="0.8" transform="rotate(-18 370.7 563.4)"/>
<ellipse cx="400.4" cy="553.1" rx="4.2" ry="1.4" fill="#757575" fill-opacity="0.8" transform="rotate(-12 400.4 553.1)"/>
<ellipse cx="402.6" cy="559.0" rx="6.7" ry="1.4" fill="#848484" fill-opacity="0.8" transform="rotate(-22 402.6 559.0)"/>
<ellipse cx="386.4" cy="551.3" rx="4.3" ry="1.6" fill="#6f6f6f" fill-opacity="0.8" transform="rotate(-22 386.4 551.3)"/>
<ellipse cx="369.5" cy="558.8" rx="5.5" ry="1.2" fill="#686868" fill-opacity="0.8" transform="rotate(-16 369.5 558.8)"/>
<ellipse cx="394.5" cy="552.2" rx="5.9" ry="2.8" fill="#6c6c6c" fill-opacity="0.8" transform="rotate(-26 394.5 552.2)"/>
<ellipse cx="391.8" cy="549.5" rx="3.4" ry="2.1" fill="#676767" fill-opacity="0.8" transform="rotate(6 391.8 549.5)"/>
<ellipse cx="396.4" cy="551.4" rx="5.9" ry="1.5" fill="#6c6c6c" fill-opacity="0.8" transform="rotate(-8 396.4 551.4)"/>
<ellipse cx="392.5" cy="564.8" rx="3.7" ry="1.7" fill="#9c9c9c" fill-opacity="0.8" transform="rotate(10 392.5 564.8)"/>
<ellipse cx="399.5" cy="573.7" rx="4.2" ry="2.3" fill="#696969" fill-opacity="0.8" transform="rotate(-33 399.5 573.7)"/>
<ellipse cx="394.2" cy="569.1" rx="3.4" ry="1.8" fill="#818181" fill-opacity="0.8" transform="rotate(4 394.2 569.1)"/>
<ellipse cx="385.5" cy="574.6" rx="5.9" ry="1.2" fill="#666666" fill-opacity="0.8" transform="rotate(1 385.5 574.6)"/>
<ellipse cx="376.8" cy="560.5" rx="4.6" ry="1.4" fill="#7e7e7e" fill-opacity="0.8" transform="rotate(-7 376.8 560.5)"/>
<ellipse cx="404.1" cy="561.9" rx="6.5" ry="1.6" fill="#7a7a7a" fill-opacity="0.8" transform="rotate(-2 404.1 561.9)"/>
<ellipse cx="411.3" cy="559.4" rx="4.9" ry="2.7" fill="#666666" fill-opacity="0.8" transform="rotate(-18 411.3 559.4)"/>
<ellipse cx="405.8" cy="555.7" rx="3.3" ry="3.0" fill="#787878" fill-opacity="0.8" transform="rotate(-27 405.8 555.7)"/>
<ellipse cx="394.9" cy="549.3" rx="3.3" ry="1.6" fill="#6c6c6c" fill-opacity="0.8" transform="rotate(-18 394.9 549.3)"/>
<ellipse cx="383.3" cy="552.7" rx="5.8" ry="1.4" fill="#777777" fill-opacity="0.8" transform="rotate(-31 383.3 552.7)"/>
<ellipse cx="370.0" cy="560.7" rx="6.5" ry="2.6" fill="#6c6c6c" fill-opacity="0.8" transform="rotate(-18 370.0 560.7)"/>
<ellipse cx="399.9" cy="569.1" rx="7.4" ry="2.1" fill="#757575" fill-opacity="0.8" transform="rotate(-31 399.9 569.1)"/>
<ellipse cx="375.0" cy="565.4" rx="3.4" ry="2.6" fill="#717171" fill-opacity="0.8" transform="rotate(-25 375.0 565.4)"/>
<ellipse cx="388.0" cy="563.5" rx="4.9" ry="1.5" fill="#a7a7a7" fill-opacity="0.8" transform="rotate(-13 388.0 563.5)"/>
<ellipse cx="392.0" cy="562.6" rx="5.7" ry="2.8" fill="#a2a2a2" fill-opacity="0.8" transform="rotate(-32 392.0 562.6)"/>
<ellipse cx="380.8" cy="567.8" rx="6.6" ry="1.4" fill="#7e7e7e" fill-opacity="0.8" transform="rotate(-4 380.8 567.8)"/>
<ellipse cx="396.3" cy="550.4" rx="6.0" ry="1.9" fill="#6e6e6e" fill-opacity="0.8" transform="rotate(5 396.3 550.4)"/>
<ellipse cx="400.6" cy="565.2" rx="7.4" ry="1.3" fill="#888888" fill-opacity="0.8" transform="rotate(-8 400.6 565.2)"/>
<ellipse cx="385.7" cy="550.8" rx="3.9" ry="2.3" fill="#6b6b6b" fill-opacity="0.8" transform="rotate(-27 385.7 550.8)"/>
<ellipse cx="388.6" cy="562.9" rx="3.1" ry="2.6" fill="#a0a0a0" fill-opacity="0.8" transform="rotate(-20 388.6 562.9)"/>
<ellipse cx="410.9" cy="564.3" rx="7.9" ry="3.0" fill="#696969" fill-opacity="0.8" transform="rotate(2 410.9 564.3)"/>
<ellipse cx="377.6" cy="569.3" rx="4.0" ry="1.6" fill="#777777" fill-opacity="0.8" transform="rotate(-30 377.6 569.3)"/>
<ellipse cx="411.9" cy="558.7" rx="6.7" ry="2.0" fill="#696969" fill-opacity="0.8" transform="rotate(-12 411.9 558.7)"/>
<ellipse cx="377.9" cy="555.7" rx="5.6" ry="1.6" fill="#767676" fill-opacity="0.8" transform="rotate(-15 377.9 555.7)"/>
<ellipse cx="371.7" cy="569.8" rx="3.3" ry="1.7" fill="#646464" fill-opacity="0.8" transform="rotate(3 371.7 569.8)"/>
<ellipse cx="369.7" cy="556.2" rx="4.5" ry="2.6" fill="#6c6c6c" fill-opacity="0.8" transform="rotate(9 369.7 556.2)"/>
<ellipse cx="371.3" cy="557.3" rx="4.2" ry="2.3" fill="#717171" fill-opacity="0.8" transform="rotate(-13 371.3 557.3)"/>
<ellipse cx="385.4" cy="554.4" rx="4.4" ry="2.0" fill="#7e7e7e" fill-opacity="0.8" transform="rotate(-8 385.4 554.4)"/>
<ellipse cx="375.6" cy="559.5" rx="4.6" ry="1.5" fill="#7b7b7b" fill-opacity="0.8" transform="rotate(-11 375.6 559.5)"/>
<ellipse cx="397.3" cy="552.6" rx="6.1" ry="1.8" fill="#777777" fill-opacity="0.8" transform="rotate(-15 397.3 552.6)"/>
<ellipse cx="407.6" cy="568.1" rx="4.1" ry="2.2" fill="#6c6c6c" fill-opacity="0.8" transform="rotate(-20 407.6 568.1)"/>
<ellipse cx="388.6" cy="571.5" rx="4.6" ry="2.7" fill="#767676" fill-opacity="0.8" transform="rotate(-12 388.6 571.5)"/>
<ellipse cx="380.1" cy="562.9" rx="3.4" ry="1.2" fill="#7d7d7d" fill-opacity="0.8" transform="rotate(6 380.1 562.9)"/>
<ellipse cx="396.9" cy="559.3" rx="7.4" ry="2.1" fill="#909090" fill-opacity="0.8" transform="rotate(-29 396.9 559.3)"/>
<ellipse cx="379.4" cy="557.3" rx="4.9" ry="1.5" fill="#868686" fill-opacity="0.8" transform="rotate(-7 379.4 557.3)"/>
<ellipse cx="367.9" cy="561.4" rx="7.3" ry="2.4" fill="#676767" fill-opacity="0.8" transform="rotate(6 367.9 561.4)"/>
<ellipse cx="373.6" cy="560.7" rx="6.4" ry="1.6" fill="#787878" fill-opacity="0.8" transform="rotate(-20 373.6 560.7)"/>
<ellipse cx="402.9" cy="560.7" rx="3.7" ry="1.2" fill="#c2c2c2" fill-opacity="0.8" transform="rotate(2 402.9 560.7)"/>
<ellipse cx="397.9" cy="562.4" rx="3.0" ry="1.2" fill="#a1a1a1" fill-opacity="0.8" transform="rotate(8 397.9 562.4)"/>
<ellipse cx="406.3" cy="563.9" rx="3.1" ry="1.3" fill="#9f9f9f" fill-opacity="0.8" transform="rotate(-5 406.3 563.9)"/>
<ellipse cx="403.9" cy="555.4" rx="4.3" ry="2.0" fill="#979797" fill-opacity="0.8" transform="rotate(9 403.9 555.4)"/>
<ellipse cx="407.3" cy="558.5" rx="3.1" ry="1.9" fill="#929292" fill-opacity="0.8" transform="rotate(-21 407.3 558.5)"/>
<ellipse cx="396.8" cy="563.5" rx="4.5" ry="1.2" fill="#929292" fill-opacity="0.8" transform="rotate(-25 396.8 563.5)"/>
<ellipse cx="402.0" cy="567.7" rx="4.0" ry="1.5" fill="#a1a1a1" fill-opacity="0.8" transform="rotate(3 402.0 567.7)"/>
<ellipse cx="400.5" cy="563.8" rx="2.3" ry="1.8" fill="#b1b1b1" fill-opacity="0.8" transform="rotate(-31 400.5 563.8)"/>
<ellipse cx="407.4" cy="560.8" rx="3.2" ry="1.2" fill="#939393" fill-opacity="0.8" transform="rotate(-23 407.4 560.8)"/>
<ellipse cx="397.4" cy="561.2" rx="2.5" ry="1.6" fill="#9e9e9e" fill-opacity="0.8" transform="rotate(2 397.4 561.2)"/>
<ellipse cx="392.7" cy="601.2" rx="7.6" ry="2.0" fill="#b4b4b4" fill-opacity="0.8" transform="rotate(-12 392.7 601.2)"/>
<ellipse cx="395.6" cy="602.6" rx="7.0" ry="1.4" fill="#a8a8a8" fill-opacity="0.8" transform="rotate(-21 395.6 602.6)"/>
<ellipse cx="404.3" cy="590.8" rx="7.9" ry="2.9" fill="#757575" fill-opacity="0.8" transform="rotate(-6 404.3 590.8)"/>
<ellipse cx="371.7" cy="600.6" rx="3.3" ry="1.5" fill="#7b7b7b" fill-opacity="0.8" transform="rotate(-24 371.7 600.6)"/>
<ellipse cx="392.1" cy="606.8" rx="5.6" ry="2.4" fill="#909090" fill-opacity="0.8" transform="rotate(-13 392.1 606.8)"/>
<ellipse cx="405.0" cy="596.3" rx="4.1" ry="1.7" fill="#9c9c9c" fill-opacity="0.8" transform="rotate(-32 405.0 596.3)"/>
<ellipse cx="411.6" cy="597.7" rx="7.8" ry="2.7" fill="#8f8f8f" fill-opacity="0.8" transform="rotate(-35 411.6 597.7)"/>
<ellipse cx="393.6" cy="609.6" rx="5.0" ry="1.3" fill="#797979" fill-opacity="0.8" transform="rotate(-7 393.6 609.6)"/>
<ellipse cx="375.2" cy="596.7" rx="7.8" ry="2.6" fill="#7b7b7b" fill-opacity="0.8" transform="rotate(-30 375.2 596.7)"/>
<ellipse cx="379.5" cy="601.2" rx="5.2" ry="1.5" fill="#8f8f8f" fill-opacity="0.8" transform="rotate(-2 379.5 601.2)"/>
<ellipse cx="376.6" cy="598.4" rx="4.1" ry="1.7" fill="#898989" fill-opacity="0.8" transform="rotate(9 376.6 598.4)"/>
<ellipse cx="413.5" cy="594.2" rx="5.0" ry="2.7" fill="#828282" fill-opacity="0.8" transform="rotate(-6 413.5 594.2)"/>
<ellipse cx="381.2" cy="595.2" rx="6.9" ry="1.8" fill="#828282" fill-opacity="0.8" transform="rotate(-22 381.2 595.2)"/>
<ellipse cx="399.0" cy="594.9" rx="6.0" ry="1.9" fill="#a2a2a2" fill-opacity="0.8" transform="rotate(-15 399.0 594.9)"/>
<ellipse cx="398.6" cy="607.3" rx="3.9" ry="1.5" fill="#8b8b8b" fill-opacity="0.8" transform="rotate(6 398.6 607.3)"/>
<ellipse cx="380.1" cy="604.8" rx="7.7" ry="1.6" fill="#8d8d8d" fill-opacity="0.8" transform="rotate(8 380.1 604.8)"/>
<ellipse cx="391.2" cy="592.1" rx="3.2" ry="2.9" fill="#858585" fill-opacity="0.8" transform="rotate(-24 391.2 592.1)"/>
<ellipse cx="410.5" cy="601.9" rx="4.5" ry="1.5" fill="#888888" fill-opacity="0.8" transform="rotate(-3 410.5 601.9)"/>
<ellipse cx="397.8" cy="607.0" rx="6.1" ry="1.7" fill="#848484" fill-opacity="0.8" transform="rotate(6 397.8 607.0)"/>
<ellipse cx="383.9" cy="598.9" rx="3.3" ry="1.5" fill="#9b9b9b" fill-opacity="0.8" transform="rotate(-18 383.9 598.9)"/>
<ellipse cx="388.4" cy="607.8" rx="7.9" ry="2.4" fill="#818181" fill-opacity="0.8" transform="rotate(-4 388.4 607.8)"/>
<ellipse cx="414.7" cy="604.0" rx="7.8" ry="1.2" fill="#838383" fill-opacity="0.8" transform="rotate(-6 414.7 604.0)"/>
<ellipse cx="374.6" cy="600.9" rx="6.7" ry="2.8" fill="#898989" fill-opacity="0.8" transform="rotate(-2 374.6 600.9)"/>
<ellipse cx="414.9" cy="597.0" rx="6.4" ry="2.8" fill="#858585" fill-opacity="0.8" transform="rotate(4 414.9 597.0)"/>
<ellipse cx="412.4" cy="601.5" rx="6.1" ry="1.9" fill="#878787" fill-opacity="0.8" transform="rotate(-9 412.4 601.5)"/>
<ellipse cx="413.2" cy="604.6" rx="4.9" ry="2.5" fill="#868686" fill-opacity="0.8" transform="rotate(-9 413.2 604.6)"/>
<ellipse cx="375.0" cy="605.0" rx="3.1" ry="2.3" fill="#7e7e7e" fill-opacity="0.8" transform="rotate(-13 375.0 605.0)"/>
<ellipse cx="394.9" cy="602.3" rx="7.6" ry="1.7" fill="#adadad" fill-opacity="0.8" transform="rotate(-34 394.9 602.3)"/>
<ellipse cx="380.7" cy="593.4" rx="7.5" ry="2.4" fill="#818181" fill-opacity="0.8" transform="rotate(-15 380.7 593.4)"/>
<ellipse cx="403.0" cy="594.0" rx="5.2" ry="2.7" fill="#929292" fill-opacity="0.8" transform="rotate(6 403.0 594.0)"/>
<ellipse cx="399.0" cy="596.3" rx="3.7" ry="2.1" fill="#aeaeae" fill-opacity="0.8" transform="rotate(3 399.0 596.3)"/>
<ellipse cx="379.1" cy="599.0" rx="4.4" ry="1.6" fill="#929292" fill-opacity="0.8" transform="rotate(-16 379.1 599.0)"/>
<ellipse cx="386.1" cy="606.8" rx="7.9" ry="2.0" fill="#8b8b8b" fill-opacity="0.8" transform="rotate(-32 386.1 606.8)"/>
<ellipse cx="398.4" cy="596.2" rx="7.0" ry="1.2" fill="#9c9c9c" fill-opacity="0.8" transform="rotate(-29 398.4 596.2)"/>
<ellipse cx="410.8" cy="594.7" rx="3.7" ry="1.3" fill="#868686" fill-opacity="0.8" transform="rotate(-7 410.8 594.7)"/>
<ellipse cx="402.4" cy="606.1" rx="7.8" ry="2.4" fill="#8b8b8b" fill-opacity="0.8" transform="rotate(-26 402.4 606.1)"/>
<ellipse cx="371.5" cy="599.4" rx="6.6" ry="1.5" fill="#7d7d7d" fill-opacity="0.8" transform="rotate(-23 371.5 599.4)"/>
<ellipse cx="396.0" cy="602.3" rx="6.8" ry="1.9" fill="#b6b6b6" fill-opacity="0.8" transform="rotate(1 396.0 602.3)"/>
<ellipse cx="415.8" cy="604.4" rx="3.6" ry="2.0" fill="#7a7a7a" fill-opacity="0.8" transform="rotate(-7 415.8 604.4)"/>
<ellipse cx="398.3" cy="607.6" rx="7.0" ry="2.9" fill="#878787" fill-opacity="0.8" transform="rotate(-14 398.3 607.6)"/>
<ellipse cx="405.7" cy="606.4" rx="6.2" ry="2.5" fill="#939393" fill-opacity="0.8" transform="rotate(-25 405.7 606.4)"/>
<ellipse cx="417.9" cy="600.7" rx="7.0" ry="1.8" fill="#7b7b7b" fill-opacity="0.8" transform="rotate(6 417.9 600.7)"/>
<ellipse cx="375.0" cy="598.8" rx="5.8" ry="2.6" fill="#868686" fill-opacity="0.8" transform="rotate(-13 375.0 598.8)"/>
<ellipse cx="379.3" cy="596.7" rx="6.9" ry="1.5" fill="#909090" fill-opacity="0.8" transform="rotate(-28 379.3 596.7)"/>
<ellipse cx="411.3" cy="603.8" rx="7.7" ry="2.1" fill="#828282" fill-opacity="0.8" transform="rotate(8 411.3 603.8)"/>
<ellipse cx="396.3" cy="595.8" rx="6.6" ry="2.3" fill="#ababab" fill-opacity="0.8" transform="rotate(-11 396.3 595.8)"/>
<ellipse cx="382.6" cy="598.3" rx="3.3" ry="1.1" fill="#d6d6d6" fill-opacity="0.8" transform="rotate(-35 382.6 598.3)"/>
<ellipse cx="388.0" cy="598.5" rx="3.2" ry="1.6" fill="#c2c2c2" fill-opacity="0.8" transform="rotate(-5 388.0 598.5)"/>
<ellipse cx="376.2" cy="598.5" rx="2.7" ry="1.4" fill="#b6b6b6" fill-opacity="0.8" transform="rotate(3 376.2 598.5)"/>
<ellipse cx="389.6" cy="597.1" rx="2.2" ry="2.0" fill="#bebebe" fill-opacity="0.8" transform="rotate(8 389.6 597.1)"/>
<ellipse cx="377.2" cy="595.5" rx="3.2" ry="1.2" fill="#bbbbbb" fill-opacity="0.8" transform="rotate(-4 377.2 595.5)"/>
<ellipse cx="388.1" cy="596.2" rx="2.8" ry="1.6" fill="#c3c3c3" fill-opacity="0.8" transform="rotate(-14 388.1 596.2)"/>
<ellipse cx="380.7" cy="595.9" rx="3.4" ry="1.7" fill="#d1d1d1" fill-opacity="0.8" transform="rotate(-30 380.7 595.9)"/>
<ellipse cx="383.2" cy="599.5" rx="3.0" ry="1.0" fill="#cacaca" fill-opacity="0.8" transform="rotate(2 383.2 599.5)"/>
<ellipse cx="378.6" cy="596.4" rx="2.8" ry="1.8" fill="#cacaca" fill-opacity="0.8" transform="rotate(-30 378.6 596.4)"/>
<ellipse cx="379.4" cy="595.8" rx="3.3" ry="1.1" fill="#c9c9c9" fill-opacity="0.8" transform="rotate(-14 379.4 595.8)"/>
<ellipse cx="406.2" cy="609.2" rx="6.4" ry="2.7" fill="#a0a0a0" fill-opacity="0.8" transform="rotate(-53 406.2 609.2)"/>
<ellipse cx="405.5" cy="609.8" rx="3.7" ry="2.2" fill="#9e9e9e" fill-opacity="0.8" transform="rotate(-51 405.5 609.8)"/>
<ellipse cx="417.8" cy="608.3" rx="3.1" ry="1.7" fill="#a8a8a8" fill-opacity="0.8" transform="rotate(-54 417.8 608.3)"/>
<ellipse cx="417.1" cy="610.9" rx="6.7" ry="2.9" fill="#9a9a9a" fill-opacity="0.8" transform="rotate(-28 417.1 610.9)"/>
<ellipse cx="410.7" cy="610.1" rx="5.8" ry="2.0" fill="#a9a9a9" fill-opacity="0.8" transform="rotate(-45 410.7 610.1)"/>
<ellipse cx="403.3" cy="610.8" rx="7.0" ry="3.0" fill="#949494" fill-opacity="0.8" transform="rotate(-32 403.3 610.8)"/>
<ellipse cx="403.7" cy="609.1" rx="5.2" ry="1.5" fill="#999999" fill-opacity="0.8" transform="rotate(-52 403.7 609.1)"/>
<ellipse cx="410.2" cy="608.3" rx="5.0" ry="1.4" fill="#b4b4b4" fill-opacity="0.8" transform="rotate(-40 410.2 608.3)"/>
<ellipse cx="404.9" cy="605.4" rx="3.4" ry="2.4" fill="#a5a5a5" fill-opacity="0.8" transform="rotate(-22 404.9 605.4)"/>
<ellipse cx="403.8" cy="610.7" rx="7.2" ry="2.4" fill="#989898" fill-opacity="0.8" transform="rotate(-54 403.8 610.7)"/>
<ellipse cx="418.7" cy="610.6" rx="4.0" ry="2.7" fill="#8f8f8f" fill-opacity="0.8" transform="rotate(-45 418.7 610.6)"/>
<ellipse cx="420.4" cy="608.2" rx="6.6" ry="1.6" fill="#949494" fill-opacity="0.8" transform="rotate(-35 420.4 608.2)"/>
<ellipse cx="305.7" cy="616.1" rx="6.3" ry="2.9" fill="#5a5a5a" fill-opacity="0.8" transform="rotate(-23 305.7 616.1)"/>
<ellipse cx="345.4" cy="600.1" rx="6.4" ry="1.9" fill="#626262" fill-opacity="0.8" transform="rotate(-0 345.4 600.1)"/>
<ellipse cx="362.9" cy="602.3" rx="4.3" ry="2.6" fill="#5a5a5a" fill-opacity="0.8" transform="rotate(-7 362.9 602.3)"/>
<ellipse cx="345.8" cy="594.6" rx="6.3" ry="1.4" fill="#5a5a5a" fill-opacity="0.8" transform="rotate(-20 345.8 594.6)"/>
<ellipse cx="368.4" cy="604.1" rx="8.0" ry="2.0" fill="#575757" fill-opacity="0.8" transform="rotate(-8 368.4 604.1)"/>
<ellipse cx="306.0" cy="611.6" rx="6.2" ry="1.5" fill="#5e5e5e" fill-opacity="0.8" transform="rotate(-31 306.0 611.6)"/>
<ellipse cx="312.0" cy="606.1" rx="4.1" ry="2.6" fill="#626262" fill-opacity="0.8" transform="rotate(-12 312.0 606.1)"/>
<ellipse cx="304.4" cy="599.2" rx="3.1" ry="2.5" fill="#555555" fill-opacity="0.8" transform="rotate(-30 304.4 599.2)"/>
<ellipse cx="332.6" cy="615.4" rx="5.7" ry="2.0" fill="#6c6c6c" fill-opacity="0.8" transform="rotate(-13 332.6 615.4)"/>
<ellipse cx="304.8" cy="607.0" rx="4.2" ry="2.8" fill="#585858" fill-opacity="0.8" transform="rotate(7 304.8 607.0)"/>
<ellipse cx="348.6" cy="610.9" rx="3.1" ry="2.5" fill="#686868" fill-opacity="0.8" transform="rotate(7 348.6 610.9)"/>
<ellipse cx="339.0" cy="625.6" rx="4.3" ry="1.7" fill="#595959" fill-opacity="0.8" transform="rotate(-27 339.0 625.6)"/>
<ellipse cx="316.4" cy="603.5" rx="3.2" ry="1.8" fill="#656565" fill-opacity="0.8" transform="rotate(9 316.4 603.5)"/>
<ellipse cx="365.4" cy="602.3" rx="4.3" ry="1.3" fill="#565656" fill-opacity="0.8" transform="rotate(-28 365.4 602.3)"/>
<ellipse cx="360.9" cy="598.6" rx="4.2" ry="2.3" fill="#5b5b5b" fill-opacity="0.8" transform="rotate(6 360.9 598.6)"/>
<ellipse cx="324.5" cy="610.4" rx="6.0" ry="2.9" fill="#727272" fill-opacity="0.8" transform="rotate(-1 324.5 610.4)"/>
<ellipse cx="324.4" cy="603.4" rx="7.8" ry="2.2" fill="#6d6d6d" fill-opacity="0.8" transform="rotate(-0 324.4 603.4)"/>
<ellipse cx="342.1" cy="597.9" rx="7.7" ry="2.0" fill="#616161" fill-opacity="0.8" transform="rotate(-20 342.1 597.9)"/>
<ellipse cx="312.4" cy="615.7" rx="3.7" ry="1.7" fill="#5f5f5f" fill-opacity="0.8" transform="rotate(-15 312.4 615.7)"/>
<ellipse cx="354.5" cy="598.3" rx="4.8" ry="2.0" fill="#5b5b5b" fill-opacity="0.8" transform="rotate(-29 354.5 598.3)"/>
<ellipse cx="350.2" cy="593.9" rx="6.3" ry="1.6" fill="#5a5a5a" fill-opacity="0.8" transform="rotate(-6 350.2 593.9)"/>
<ellipse cx="365.2" cy="614.3" rx="5.8" ry="1.3" fill="#575757" fill-opacity="0.8" transform="rotate(-17 365.2 614.3)"/>
<ellipse cx="302.5" cy="615.2" rx="7.7" ry="2.2" fill="#575757" fill-opacity="0.8" transform="rotate(-31 302.5 615.2)"/>
<ellipse cx="320.0" cy="593.4" rx="4.9" ry="2.3" fill="#5d5d5d" fill-opacity="0.8" transform="rotate(-35 320.0 593.4)"/>
<ellipse cx="333.7" cy="609.1" rx="4.5" ry="2.9" fill="#7c7c7c" fill-opacity="0.8" transform="rotate(-24 333.7 609.1)"/>
<ellipse cx="359.6" cy="603.9" rx="5.2" ry="1.8" fill="#5a5a5a" fill-opacity="0.8" transform="rotate(7 359.6 603.9)"/>
<ellipse cx="335.7" cy="621.4" rx="5.2" ry="2.8" fill="#616161" fill-opacity="0.8" transform="rotate(-32 335.7 621.4)"/>
<ellipse cx="355.2" cy="604.9" rx="6.4" ry="2.9" fill="#5e5e5e" fill-opacity="0.8" transform="rotate(-16 355.2 604.9)"/>
<ellipse cx="360.1" cy="607.0" rx="4.9" ry="2.1" fill="#5c5c5c" fill-opacity="0.8" transform="rotate(-30 360.1 607.0)"/>
<ellipse cx="316.4" cy="622.4" rx="4.2" ry="1.4" fill="#575757" fill-opacity="0.8" transform="rotate(4 316.4 622.4)"/>
<ellipse cx="346.6" cy="615.4" rx="6.2" ry="2.6" fill="#666666" fill-opacity="0.8" transform="rotate(-16 346.6 615.4)"/>
<ellipse cx="343.0" cy="616.2" rx="3.9" ry="1.9" fill="#686868" fill-opacity="0.8" transform="rotate(-4 343.0 616.2)"/>
<ellipse cx="332.1" cy="618.2" rx="4.7" ry="2.1" fill="#636363" fill-opacity="0.8" transform="rotate(2 332.1 618.2)"/>
<ellipse cx="343.8" cy="593.3" rx="7.3" ry="1.7" fill="#5b5b5b" fill-opacity="0.8" transform="rotate(6 343.8 593.3)"/>
<ellipse cx="335.5" cy="615.3" rx="5.4" ry="2.3" fill="#6f6f6f" fill-opacity="0.8" transform="rotate(-18 335.5 615.3)"/>
<ellipse cx="334.5" cy="590.7" rx="3.7" ry="2.3" fill="#595959" fill-opacity="0.8" transform="rotate(6 334.5 590.7)"/>
<ellipse cx="332.3" cy="612.2" rx="4.8" ry="1.8" fill="#727272" fill-opacity="0.8" transform="rotate(3 332.3 612.2)"/>
<ellipse cx="329.1" cy="588.6" rx="4.5" ry="2.8" fill="#585858" fill-opacity="0.8" transform="rotate(-27 329.1 588.6)"/>
<ellipse cx="314.3" cy="603.5" rx="6.0" ry="1.4" fill="#656565" fill-opacity="0.8" transform="rotate(-0 314.3 603.5)"/>
<ellipse cx="353.0" cy="591.1" rx="7.1" ry="2.7" fill="#535353" fill-opacity="0.8" transform="rotate(-24 353.0 591.1)"/>
<ellipse cx="336.8" cy="618.1" rx="4.9" ry="2.2" fill="#6b6b6b" fill-opacity="0.8" transform="rotate(-29 336.8 618.1)"/>
<ellipse cx="351.7" cy="591.6" rx="5.8" ry="1.6" fill="#565656" fill-opacity="0.8" transform="rotate(6 351.7 591.6)"/>
<ellipse cx="331.9" cy="603.4" rx="3.3" ry="2.4" fill="#727272" fill-opacity="0.8" transform="rotate(9 331.9 603.4)"/>
<ellipse cx="322.4" cy="598.9" rx="5.3" ry="3.0" fill="#636363" fill-opacity="0.8" transform="rotate(0 322.4 598.9)"/>
<ellipse cx="330.5" cy="588.6" rx="3.3" ry="1.9" fill="#565656" fill-opacity="0.8" transform="rotate(-24 330.5 588.6)"/>
<ellipse cx="364.0" cy="605.0" rx="3.9" ry="2.9" fill="#5d5d5d" fill-opacity="0.8" transform="rotate(-16 364.0 605.0)"/>
<ellipse cx="338.2" cy="626.1" rx="6.5" ry="2.9" fill="#595959" fill-opacity="0.8" transform="rotate(-28 338.2 626.1)"/>
<ellipse cx="348.2" cy="600.0" rx="4.2" ry="1.7" fill="#666666" fill-opacity="0.8" transform="rotate(-27 348.2 600.0)"/>
<ellipse cx="315.5" cy="613.3" rx="4.0" ry="1.6" fill="#5f5f5f" fill-opacity="0.8" transform="rotate(-24 315.5 613.3)"/>
<ellipse cx="351.3" cy="614.4" rx="4.6" ry="2.8" fill="#666666" fill-opacity="0.8" transform="rotate(-10 351.3 614.4)"/>
<ellipse cx="314.5" cy="620.4" rx="7.1" ry="1.2" fill="#5b5b5b" fill-opacity="0.8" transform="rotate(3 314.5 620.4)"/>
<ellipse cx="366.1" cy="606.1" rx="4.2" ry="1.3" fill="#5a5a5a" fill-opacity="0.8" transform="rotate(5 366.1 606.1)"/>
<ellipse cx="334.3" cy="624.4" rx="4.5" ry="1.4" fill="#5d5d5d" fill-opacity="0.8" transform="rotate(-6 334.3 624.4)"/>
<ellipse cx="321.4" cy="605.0" rx="4.5" ry="1.8" fill="#6c6c6c" fill-opacity="0.8" transform="rotate(-11 321.4 605.0)"/>
<ellipse cx="322.7" cy="597.9" rx="7.8" ry="2.0" fill="#666666" fill-opacity="0.8" transform="rotate(-15 322.7 597.9)"/>
<ellipse cx="325.7" cy="604.0" rx="4.2" ry="2.5" fill="#6f6f6f" fill-opacity="0.8" transform="rotate(-22 325.7 604.0)"/>
<ellipse cx="353.2" cy="617.6" rx="5.4" ry="2.9" fill="#636363" fill-opacity="0.8" transform="rotate(8 353.2 617.6)"/>
<ellipse cx="330.7" cy="602.4" rx="7.3" ry="2.1" fill="#6d6d6d" fill-opacity="0.8" transform="rotate(-1 330.7 602.4)"/>
<ellipse cx="318.9" cy="607.8" rx="6.6" ry="2.7" fill="#6a6a6a" fill-opacity="0.8" transform="rotate(8 318.9 607.8)"/>
<ellipse cx="327.7" cy="625.0" rx="7.2" ry="2.3" fill="#565656" fill-opacity="0.8" transform="rotate(4 327.7 625.0)"/>
<ellipse cx="319.4" cy="625.2" rx="3.2" ry="1.8" fill="#595959" fill-opacity="0.8" transform="rotate(-12 319.4 625.2)"/>
<ellipse cx="314.0" cy="604.3" rx="7.4" ry="1.8" fill="#676767" fill-opacity="0.8" transform="rotate(-9 314.0 604.3)"/>
<ellipse cx="337.0" cy="588.8" rx="7.3" ry="1.2" fill="#575757" fill-opacity="0.8" transform="rotate(-31 337.0 588.8)"/>
<ellipse cx="305.4" cy="600.9" rx="3.2" ry="2.5" fill="#595959" fill-opacity="0.8" transform="rotate(2 305.4 600.9)"/>
<ellipse cx="327.9" cy="623.2" rx="6.4" ry="2.6" fill="#5e5e5e" fill-opacity="0.8" transform="rotate(-12 327.9 623.2)"/>
<ellipse cx="317.6" cy="607.1" rx="3.2" ry="2.4" fill="#686868" fill-opacity="0.8" transform="rotate(-20 317.6 607.1)"/>
<ellipse cx="335.9" cy="600.6" rx="7.6" ry="2.9" fill="#696969" fill-opacity="0.8" transform="rotate(-16 335.9 600.6)"/>
<ellipse cx="334.7" cy="627.8" rx="3.1" ry="1.2" fill="#575757" fill-opacity="0.8" transform="rotate(-32 334.7 627.8)"/>
<ellipse cx="341.6" cy="603.3" rx="4.9" ry="1.4" fill="#6c6c6c" fill-opacity="0.8" transform="rotate(-17 341.6 603.3)"/>
<ellipse cx="336.8" cy="603.1" rx="7.3" ry="1.7" fill="#747474" fill-opacity="0.8" transform="rotate(4 336.8 603.1)"/>
<ellipse cx="322.6" cy="596.8" rx="7.9" ry="1.2" fill="#737373" fill-opacity="0.8" transform="rotate(5 322.6 596.8)"/>
<ellipse cx="309.8" cy="606.7" rx="4.4" ry="1.7" fill="#808080" fill-opacity="0.8" transform="rotate(-25 309.8 606.7)"/>
<ellipse cx="324.5" cy="598.0" rx="7.6" ry="2.1" fill="#707070" fill-opacity="0.8" transform="rotate(-25 324.5 598.0)"/>
<ellipse cx="301.5" cy="604.2" rx="4.8" ry="2.2" fill="#6f6f6f" fill-opacity="0.8" transform="rotate(7 301.5 604.2)"/>
<ellipse cx="314.7" cy="611.0" rx="3.1" ry="1.5" fill="#707070" fill-opacity="0.8" transform="rotate(-27 314.7 611.0)"/>
<ellipse cx="322.0" cy="599.2" rx="5.5" ry="2.8" fill="#727272" fill-opacity="0.8" transform="rotate(-31 322.0 599.2)"/>
<ellipse cx="314.0" cy="609.1" rx="5.8" ry="1.9" fill="#767676" fill-opacity="0.8" transform="rotate(-12 314.0 609.1)"/>
<ellipse cx="310.3" cy="598.2" rx="4.6" ry="2.7" fill="#7a7a7a" fill-opacity="0.8" transform="rotate(-21 310.3 598.2)"/>
<ellipse cx="313.1" cy="595.3" rx="7.5" ry="2.6" fill="#6e6e6e" fill-opacity="0.8" transform="rotate(-14 313.1 595.3)"/>
<ellipse cx="311.0" cy="609.1" rx="7.6" ry="2.5" fill="#747474" fill-opacity="0.8" transform="rotate(-22 311.0 609.1)"/>
<ellipse cx="315.0" cy="602.7" rx="7.9" ry="1.3" fill="#939393" fill-opacity="0.8" transform="rotate(-32 315.0 602.7)"/>
<ellipse cx="313.8" cy="608.0" rx="6.0" ry="2.4" fill="#737373" fill-opacity="0.8" transform="rotate(-23 313.8 608.0)"/>
<ellipse cx="309.7" cy="605.7" rx="4.9" ry="1.8" fill="#808080" fill-opacity="0.8" transform="rotate(-7 309.7 605.7)"/>
<ellipse cx="309.0" cy="608.8" rx="7.0" ry="2.8" fill="#727272" fill-opacity="0.8" transform="rotate(5 309.0 608.8)"/>
<ellipse cx="310.1" cy="601.0" rx="5.6" ry="1.5" fill="#858585" fill-opacity="0.8" transform="rotate(-24 310.1 601.0)"/>
<ellipse cx="328.2" cy="606.3" rx="4.6" ry="1.8" fill="#6c6c6c" fill-opacity="0.8" transform="rotate(-8 328.2 606.3)"/>
<ellipse cx="326.5" cy="607.1" rx="3.5" ry="2.7" fill="#717171" fill-opacity="0.8" transform="rotate(-9 326.5 607.1)"/>
<ellipse cx="310.0" cy="607.3" rx="5.7" ry="2.1" fill="#7a7a7a" fill-opacity="0.8" transform="rotate(6 310.0 607.3)"/>
<ellipse cx="321.7" cy="637.8" rx="5.1" ry="2.0" fill="#5c5c5c" fill-opacity="0.8" transform="rotate(-17 321.7 637.8)"/>
<ellipse cx="318.1" cy="636.0" rx="3.7" ry="2.5" fill="#595959" fill-opacity="0.8" transform="rotate(-21 318.1 636.0)"/>
<ellipse cx="315.2" cy="642.7" rx="7.0" ry="2.4" fill="#4c4c4c" fill-opacity="0.8" transform="rotate(-34 315.2 642.7)"/>
<ellipse cx="317.8" cy="634.7" rx="4.5" ry="1.7" fill="#505050" fill-opacity="0.8" transform="rotate(0 317.8 634.7)"/>
<ellipse cx="338.6" cy="643.4" rx="4.5" ry="1.3" fill="#4d4d4d" fill-opacity="0.8" transform="rotate(9 338.6 643.4)"/>
<ellipse cx="331.4" cy="634.8" rx="3.8" ry="1.7" fill="#545454" fill-opacity="0.8" transform="rotate(-14 331.4 634.8)"/>
<ellipse cx="350.5" cy="637.9" rx="7.6" ry="2.1" fill="#525252" fill-opacity="0.8" transform="rotate(1 350.5 637.9)"/>
<ellipse cx="330.0" cy="632.3" rx="3.7" ry="1.6" fill="#4b4b4b" fill-opacity="0.8" transform="rotate(-17 330.0 632.3)"/>
<ellipse cx="339.6" cy="636.8" rx="4.6" ry="2.1" fill="#5c5c5c" fill-opacity="0.8" transform="rotate(8 339.6 636.8)"/>
<ellipse cx="349.0" cy="634.7" rx="3.5" ry="1.4" fill="#4d4d4d" fill-opacity="0.8" transform="rotate(-30 349.0 634.7)"/>
<ellipse cx="341.2" cy="643.3" rx="6.8" ry="1.5" fill="#494949" fill-opacity="0.8" transform="rotate(-6 341.2 643.3)"/>
<ellipse cx="300.7" cy="638.3" rx="7.6" ry="1.4" fill="#484848" fill-opacity="0.8" transform="rotate(-28 300.7 638.3)"/>
<ellipse cx="327.9" cy="640.8" rx="5.3" ry="1.3" fill="#565656" fill-opacity="0.8" transform="rotate(-34 327.9 640.8)"/>
<ellipse cx="355.5" cy="638.0" rx="3.5" ry="1.6" fill="#4b4b4b" fill-opacity="0.8" transform="rotate(-16 355.5 638.0)"/>
<ellipse cx="326.0" cy="642.1" rx="4.2" ry="2.8" fill="#505050" fill-opacity="0.8" transform="rotate(4 326.0 642.1)"/>
<ellipse cx="311.1" cy="640.0" rx="7.1" ry="2.7" fill="#4e4e4e" fill-opacity="0.8" transform="rotate(-26 311.1 640.0)"/>
<ellipse cx="310.6" cy="541.8" rx="6.2" ry="2.1" fill="#575757" fill-opacity="0.8" transform="rotate(-25 310.6 541.8)"/>
<ellipse cx="332.8" cy="538.1" rx="4.2" ry="1.2" fill="#666666" fill-opacity="0.8" transform="rotate(-18 332.8 538.1)"/>
<ellipse cx="350.8" cy="532.6" rx="4.2" ry="1.3" fill="#565656" fill-opacity="0.8" transform="rotate(10 350.8 532.6)"/>
<ellipse cx="339.4" cy="528.7" rx="4.6" ry="2.1" fill="#4f4f4f" fill-opacity="0.8" transform="rotate(-30 339.4 528.7)"/>
<ellipse cx="309.9" cy="544.4" rx="3.6" ry="2.9" fill="#505050" fill-opacity="0.8" transform="rotate(-15 309.9 544.4)"/>
<ellipse cx="331.0" cy="531.7" rx="3.2" ry="2.8" fill="#585858" fill-opacity="0.8" transform="rotate(-24 331.0 531.7)"/>
<ellipse cx="348.3" cy="543.3" rx="5.9" ry="2.5" fill="#575757" fill-opacity="0.8" transform="rotate(-29 348.3 543.3)"/>
<ellipse cx="356.8" cy="536.2" rx="4.8" ry="2.0" fill="#555555" fill-opacity="0.8" transform="rotate(-18 356.8 536.2)"/>
<ellipse cx="331.7" cy="537.8" rx="5.8" ry="2.5" fill="#686868" fill-opacity="0.8" transform="rotate(-25 331.7 537.8)"/>
<ellipse cx="339.8" cy="531.6" rx="3.9" ry="1.8" fill="#565656" fill-opacity="0.8" transform="rotate(7 339.8 531.6)"/>
<ellipse cx="319.6" cy="530.1" rx="3.3" ry="2.7" fill="#525252" fill-opacity="0.8" transform="rotate(-0 319.6 530.1)"/>
<ellipse cx="343.3" cy="546.0" rx="7.8" ry="1.9" fill="#535353" fill-opacity="0.8" transform="rotate(10 343.3 546.0)"/>
<ellipse cx="356.5" cy="537.8" rx="4.9" ry="1.6" fill="#525252" fill-opacity="0.8" transform="rotate(4 356.5 537.8)"/>
<ellipse cx="351.5" cy="543.5" rx="5.4" ry="2.7" fill="#525252" fill-opacity="0.8" transform="rotate(-33 351.5 543.5)"/>
<ellipse cx="326.9" cy="531.4" rx="3.3" ry="1.8" fill="#5a5a5a" fill-opacity="0.8" transform="rotate(5 326.9 531.4)"/>
<ellipse cx="330.7" cy="533.0" rx="7.8" ry="2.1" fill="#575757" fill-opacity="0.8" transform="rotate(-2 330.7 533.0)"/>
<ellipse cx="353.6" cy="543.9" rx="7.4" ry="2.3" fill="#535353" fill-opacity="0.8" transform="rotate(-16 353.6 543.9)"/>
<ellipse cx="319.7" cy="538.7" rx="4.4" ry="2.6" fill="#616161" fill-opacity="0.8" transform="rotate(-35 319.7 538.7)"/>
<ellipse cx="301.5" cy="539.9" rx="6.2" ry="2.7" fill="#4f4f4f" fill-opacity="0.8" transform="rotate(-9 301.5 539.9)"/>
<ellipse cx="328.6" cy="530.8" rx="7.3" ry="2.4" fill="#555555" fill-opacity="0.8" transform="rotate(-29 328.6 530.8)"/>
<ellipse cx="331.6" cy="532.4" rx="3.8" ry="1.5" fill="#5b5b5b" fill-opacity="0.8" transform="rotate(-18 331.6 532.4)"/>
<ellipse cx="355.9" cy="543.5" rx="7.0" ry="1.2" fill="#515151" fill-opacity="0.8" transform="rotate(-14 355.9 543.5)"/>
<ellipse cx="311.2" cy="542.2" rx="4.3" ry="2.5" fill="#535353" fill-opacity="0.8" transform="rotate(-21 311.2 542.2)"/>
<ellipse cx="319.8" cy="546.0" rx="4.5" ry="2.1" fill="#505050" fill-opacity="0.8" transform="rotate(-10 319.8 546.0)"/>
<ellipse cx="338.5" cy="538.2" rx="6.7" ry="2.9" fill="#646464" fill-opacity="0.8" transform="rotate(-21 338.5 538.2)"/>
<ellipse cx="335.9" cy="529.3" rx="7.1" ry="3.0" fill="#545454" fill-opacity="0.8" transform="rotate(-19 335.9 529.3)"/>
<ellipse cx="348.6" cy="537.0" rx="6.1" ry="1.2" fill="#5a5a5a" fill-opacity="0.8" transform="rotate(-6 348.6 537.0)"/>
<ellipse cx="324.9" cy="536.0" rx="4.1" ry="1.3" fill="#5f5f5f" fill-opacity="0.8" transform="rotate(-15 324.9 536.0)"/>
<ellipse cx="352.3" cy="542.5" rx="5.3" ry="1.6" fill="#555555" fill-opacity="0.8" transform="rotate(-18 352.3 542.5)"/>
<ellipse cx="330.7" cy="537.8" rx="6.6" ry="2.8" fill="#696969" fill-opacity="0.8" transform="rotate(0 330.7 537.8)"/>
<ellipse cx="342.8" cy="545.2" rx="6.5" ry="2.4" fill="#545454" fill-opacity="0.8" transform="rotate(-24 342.8 545.2)"/>
<ellipse cx="339.3" cy="544.5" rx="7.8" ry="3.0" fill="#555555" fill-opacity="0.8" transform="rotate(-35 339.3 544.5)"/>
<ellipse cx="325.0" cy="530.9" rx="5.8" ry="1.3" fill="#585858" fill-opacity="0.8" transform="rotate(-21 325.0 530.9)"/>
<ellipse cx="329.6" cy="530.2" rx="7.8" ry="2.5" fill="#545454" fill-opacity="0.8" transform="rotate(-26 329.6 530.2)"/>
<ellipse cx="343.6" cy="533.2" rx="7.8" ry="1.8" fill="#595959" fill-opacity="0.8" transform="rotate(-24 343.6 533.2)"/>
<ellipse cx="343.6" cy="532.0" rx="6.0" ry="1.7" fill="#585858" fill-opacity="0.8" transform="rotate(-18 343.6 532.0)"/>
<ellipse cx="346.1" cy="576.9" rx="6.3" ry="1.8" fill="#515151" fill-opacity="0.8" transform="rotate(5 346.1 576.9)"/>
<ellipse cx="352.1" cy="584.6" rx="7.7" ry="2.4" fill="#5d5d5d" fill-opacity="0.8" transform="rotate(7 352.1 584.6)"/>
<ellipse cx="376.8" cy="584.4" rx="4.6" ry="1.5" fill="#565656" fill-opacity="0.8" transform="rotate(3 376.8 584.4)"/>
<ellipse cx="362.9" cy="586.2" rx="6.1" ry="1.7" fill="#5d5d5d" fill-opacity="0.8" transform="rotate(8 362.9 586.2)"/>
<ellipse cx="380.0" cy="585.4" rx="3.7" ry="2.7" fill="#4e4e4e" fill-opacity="0.8" transform="rotate(-5 380.0 585.4)"/>
<ellipse cx="361.4" cy="575.5" rx="7.6" ry="2.1" fill="#515151" fill-opacity="0.8" transform="rotate(-12 361.4 575.5)"/>
<ellipse cx="378.3" cy="579.9" rx="4.9" ry="2.2" fill="#515151" fill-opacity="0.8" transform="rotate(-22 378.3 579.9)"/>
<ellipse cx="357.1" cy="585.8" rx="5.6" ry="1.4" fill="#5d5d5d" fill-opacity="0.8" transform="rotate(10 357.1 585.8)"/>
<ellipse cx="355.7" cy="589.9" rx="7.8" ry="2.1" fill="#535353" fill-opacity="0.8" transform="rotate(-17 355.7 589.9)"/>
<ellipse cx="345.5" cy="583.7" rx="4.7" ry="1.8" fill="#545454" fill-opacity="0.8" transform="rotate(-19 345.5 583.7)"/>
<ellipse cx="361.6" cy="587.7" rx="6.2" ry="1.6" fill="#565656" fill-opacity="0.8" transform="rotate(-4 361.6 587.7)"/>
<ellipse cx="358.3" cy="588.5" rx="5.5" ry="2.1" fill="#595959" fill-opacity="0.8" transform="rotate(-9 358.3 588.5)"/>
<ellipse cx="358.8" cy="586.6" rx="6.2" ry="1.8" fill="#5f5f5f" fill-opacity="0.8" transform="rotate(0 358.8 586.6)"/>
<ellipse cx="360.0" cy="585.2" rx="4.7" ry="1.5" fill="#5f5f5f" fill-opacity="0.8" transform="rotate(-4 360.0 585.2)"/>
<ellipse cx="353.5" cy="576.9" rx="4.1" ry="1.7" fill="#515151" fill-opacity="0.8" transform="rotate(4 353.5 576.9)"/>
<ellipse cx="342.3" cy="582.5" rx="4.0" ry="1.8" fill="#565656" fill-opacity="0.8" transform="rotate(-2 342.3 582.5)"/>
<ellipse cx="339.7" cy="581.0" rx="7.2" ry="1.3" fill="#4f4f4f" fill-opacity="0.8" transform="rotate(-26 339.7 581.0)"/>
<ellipse cx="371.0" cy="586.5" rx="5.3" ry="1.6" fill="#545454" fill-opacity="0.8" transform="rotate(-25 371.0 586.5)"/>
<ellipse cx="367.3" cy="577.5" rx="7.4" ry="2.4" fill="#555555" fill-opacity="0.8" transform="rotate(-32 367.3 577.5)"/>
<ellipse cx="339.9" cy="582.8" rx="3.1" ry="2.6" fill="#535353" fill-opacity="0.8" transform="rotate(-35 339.9 582.8)"/>
<ellipse cx="375.2" cy="578.7" rx="5.7" ry="1.5" fill="#545454" fill-opacity="0.8" transform="rotate(-20 375.2 578.7)"/>
<ellipse cx="366.2" cy="577.8" rx="7.0" ry="2.8" fill="#575757" fill-opacity="0.8" transform="rotate(-10 366.2 577.8)"/>
<ellipse cx="374.6" cy="533.5" rx="5.7" ry="1.4" fill="#5b5b5b" fill-opacity="0.8" transform="rotate(-26 374.6 533.5)"/>
<ellipse cx="370.7" cy="525.5" rx="3.4" ry="2.5" fill="#4c4c4c" fill-opacity="0.8" transform="rotate(-16 370.7 525.5)"/>
<ellipse cx="368.1" cy="526.2" rx="6.9" ry="2.3" fill="#4e4e4e" fill-opacity="0.8" transform="rotate(-5 368.1 526.2)"/>
<ellipse cx="368.2" cy="540.2" rx="4.8" ry="2.2" fill="#515151" fill-opacity="0.8" transform="rotate(-5 368.2 540.2)"/>
<ellipse cx="371.3" cy="539.4" rx="6.0" ry="2.0" fill="#545454" fill-opacity="0.8" transform="rotate(-6 371.3 539.4)"/>
<ellipse cx="367.1" cy="541.3" rx="4.0" ry="1.4" fill="#4e4e4e" fill-opacity="0.8" transform="rotate(-31 367.1 541.3)"/>
<ellipse cx="374.0" cy="541.4" rx="4.7" ry="1.9" fill="#535353" fill-opacity="0.8" transform="rotate(-22 374.0 541.4)"/>
<ellipse cx="373.4" cy="530.2" rx="3.5" ry="2.6" fill="#575757" fill-opacity="0.8" transform="rotate(-3 373.4 530.2)"/>
<ellipse cx="373.3" cy="543.4" rx="6.0" ry="2.9" fill="#4c4c4c" fill-opacity="0.8" transform="rotate(-27 373.3 543.4)"/>
<ellipse cx="369.7" cy="525.5" rx="7.0" ry="2.4" fill="#4d4d4d" fill-opacity="0.8" transform="rotate(9 369.7 525.5)"/>
<ellipse cx="373.1" cy="544.8" rx="6.7" ry="1.8" fill="#494949" fill-opacity="0.8" transform="rotate(9 373.1 544.8)"/>
<ellipse cx="360.1" cy="534.3" rx="4.0" ry="2.9" fill="#4b4b4b" fill-opacity="0.8" transform="rotate(8 360.1 534.3)"/>
<ellipse cx="372.8" cy="528.4" rx="5.7" ry="2.7" fill="#535353" fill-opacity="0.8" transform="rotate(-24 372.8 528.4)"/>
<ellipse cx="370.5" cy="531.9" rx="7.5" ry="2.7" fill="#5b5b5b" fill-opacity="0.8" transform="rotate(5 370.5 531.9)"/>
<ellipse cx="325.6" cy="632.8" rx="3.9" ry="3.0" fill="#585858" fill-opacity="0.8" transform="rotate(-26 325.6 632.8)"/>
<ellipse cx="327.3" cy="623.1" rx="6.5" ry="2.5" fill="#5a5a5a" fill-opacity="0.8" transform="rotate(-1 327.3 623.1)"/>
<ellipse cx="318.6" cy="634.4" rx="6.7" ry="2.0" fill="#555555" fill-opacity="0.8" transform="rotate(-21 318.6 634.4)"/>
<ellipse cx="327.4" cy="632.8" rx="3.8" ry="1.8" fill="#585858" fill-opacity="0.8" transform="rotate(-21 327.4 632.8)"/>
<ellipse cx="311.4" cy="633.5" rx="3.3" ry="1.4" fill="#5a5a5a" fill-opacity="0.8" transform="rotate(-5 311.4 633.5)"/>
<ellipse cx="309.6" cy="631.4" rx="7.6" ry="1.4" fill="#5a5a5a" fill-opacity="0.8" transform="rotate(-13 309.6 631.4)"/>
<ellipse cx="317.3" cy="630.4" rx="7.9" ry="1.4" fill="#6d6d6d" fill-opacity="0.8" transform="rotate(-12 317.3 630.4)"/>
<ellipse cx="319.2" cy="624.4" rx="6.2" ry="1.7" fill="#626262" fill-opacity="0.8" transform="rotate(-6 319.2 624.4)"/>
<ellipse cx="328.6" cy="626.6" rx="5.3" ry="2.7" fill="#5e5e5e" fill-opacity="0.8" transform="rotate(-24 328.6 626.6)"/>
<ellipse cx="315.6" cy="633.2" rx="4.2" ry="1.9" fill="#5a5a5a" fill-opacity="0.8" transform="rotate(-32 315.6 633.2)"/>
<ellipse cx="316.2" cy="631.7" rx="3.2" ry="3.0" fill="#646464" fill-opacity="0.8" transform="rotate(-3 316.2 631.7)"/>
<ellipse cx="320.7" cy="626.7" rx="5.0" ry="1.6" fill="#676767" fill-opacity="0.8" transform="rotate(-21 320.7 626.7)"/>
<ellipse cx="309.4" cy="628.6" rx="6.5" ry="2.0" fill="#656565" fill-opacity="0.8" transform="rotate(-7 309.4 628.6)"/>
<ellipse cx="313.8" cy="631.6" rx="4.6" ry="2.5" fill="#5d5d5d" fill-opacity="0.8" transform="rotate(-17 313.8 631.6)"/>
<ellipse cx="354.1" cy="644.3" rx="7.2" ry="1.6" fill="#4a4a4a" fill-opacity="0.8" transform="rotate(4 354.1 644.3)"/>
<ellipse cx="350.7" cy="639.2" rx="5.9" ry="1.4" fill="#575757" fill-opacity="0.8" transform="rotate(-4 350.7 639.2)"/>
<ellipse cx="374.1" cy="641.2" rx="7.1" ry="1.5" fill="#4f4f4f" fill-opacity="0.8" transform="rotate(-19 374.1 641.2)"/>
<ellipse cx="382.7" cy="641.4" rx="3.5" ry="2.2" fill="#484848" fill-opacity="0.8" transform="rotate(-16 382.7 641.4)"/>
<ellipse cx="358.1" cy="635.7" rx="5.8" ry="2.1" fill="#4b4b4b" fill-opacity="0.8" transform="rotate(-29 358.1 635.7)"/>
<ellipse cx="344.3" cy="643.2" rx="4.1" ry="2.0" fill="#4b4b4b" fill-opacity="0.8" transform="rotate(-10 344.3 643.2)"/>
<ellipse cx="360.2" cy="639.8" rx="3.3" ry="2.7" fill="#585858" fill-opacity="0.8" transform="rotate(-22 360.2 639.8)"/>
<ellipse cx="375.1" cy="641.3" rx="5.3" ry="2.1" fill="#505050" fill-opacity="0.8" transform="rotate(-25 375.1 641.3)"/>
<ellipse cx="340.4" cy="641.8" rx="7.4" ry="2.6" fill="#4d4d4d" fill-opacity="0.8" transform="rotate(-25 340.4 641.8)"/>
<ellipse cx="354.0" cy="636.7" rx="5.9" ry="2.3" fill="#4e4e4e" fill-opacity="0.8" transform="rotate(-11 354.0 636.7)"/>
<ellipse cx="359.7" cy="639.6" rx="6.4" ry="2.0" fill="#5f5f5f" fill-opacity="0.8" transform="rotate(-19 359.7 639.6)"/>
<ellipse cx="372.3" cy="639.2" rx="7.0" ry="2.5" fill="#525252" fill-opacity="0.8" transform="rotate(-10 372.3 639.2)"/>
</g></g></defs>
<g clip-path="url(#clipA)"><use href="#fld" filter="url(#palA)"/></g>
<g clip-path="url(#clipB)"><use href="#fld" filter="url(#palB)"/></g>
<g clip-path="url(#clipC)"><use href="#fld" filter="url(#palC)"/></g>
<path d="M353 44.5h1M389 53.5h1M349 66.5h1M382 67.5h1M327 102.5h1M397 189.5h1M341 204.5h1M375 211.5h1M339 216.5h1M341 217.5h1M345 221.5h1M314 222.5h1M356 223.5h1M389 224.5h1M387 231.5h1M351 234.5h1M334 238.5h1M353 252.5h1M324 259.5h1M382 259.5h1M330 266.5h1M400 268.5h1M343 273.5h1M393 273.5h1M376 275.5h1M395 305.5h1M385 350.5h1M398 356.5h1M321 357.5h1M420 364.5h1M356 438.5h1M370 462.5h1M344 488.5h1M317 495.5h1M303 510.5h1M355 512.5h1M403 522.5h1M316 525.5h1M329 533.5h1M404 555.5h1M311 556.5h1M362 558.5h1M319 563.5h1M395 565.5h1M381 567.5h1M303 604.5h1M341 612.5h1M330 622.5h1" stroke="#da141e" stroke-width="1" fill="none" shape-rendering="crispEdges"/>
<path d="M384 48.5h1M399 55.5h1M407 55.5h1M408 64.5h1M389 66.5h1M394 73.5h1M381 77.5h1M390 80.5h1M391 99.5h1M315 106.5h1M321 118.5h1M370 124.5h1M376 124.5h1M300 125.5h1M381 125.5h1M302 128.5h1M372 195.5h1M334 202.5h1M355 204.5h1M325 205.5h1M347 205.5h1M388 208.5h1M332 210.5h1M333 213.5h1M334 213.5h1M388 213.5h1M362 223.5h1M397 236.5h1M319 246.5h1M402 246.5h1M368 247.5h1M344 251.5h1M387 257.5h1M314 260.5h1M357 265.5h1M370 268.5h1M407 269.5h1M386 280.5h1M405 291.5h1M359 295.5h1M402 307.5h1M400 318.5h1M419 323.5h1M403 332.5h1M396 347.5h1M300 350.5h1M375 351.5h1M400 352.5h1M393 358.5h1M401 383.5h1M335 390.5h1M361 391.5h1M391 392.5h1M305 501.5h1M397 506.5h1M393 514.5h1M403 516.5h1M404 538.5h1M387 545.5h1M325 553.5h1M340 554.5h1M395 557.5h1M409 559.5h1M387 561.5h1M330 565.5h1M391 568.5h1M400 575.5h1M305 583.5h1M329 583.5h1M385 590.5h1M328 592.5h1M412 592.5h1M380 599.5h1M405 601.5h1M381 602.5h1M328 604.5h1M386 607.5h1M381 608.5h1M336 619.5h1" stroke="#bb0026" stroke-width="1" fill="none" shape-rendering="crispEdges"/>
<path d="M367 56.5h1M404 67.5h1M383 77.5h1M347 78.5h1M398 101.5h1M323 107.5h1M300 114.5h1M359 136.5h1M331 192.5h1M398 196.5h1M400 196.5h1M359 197.5h1M342 200.5h1M349 203.5h1M370 205.5h1M359 210.5h1M363 212.5h1M328 215.5h1M358 223.5h1M328 226.5h1M367 227.5h1M368 233.5h1M360 239.5h1M307 246.5h1M317 249.5h1M310 250.5h1M321 259.5h1M366 259.5h1M316 260.5h1M352 264.5h1M330 268.5h1M361 269.5h1M417 271.5h1M332 272.5h1M375 278.5h1M418 283.5h1M351 284.5h1M389 293.5h1M368 298.5h1M339 331.5h1M402 332.5h1M344 333.5h1M400 339.5h1M396 343.5h1M397 345.5h1M309 352.5h1M415 364.5h1M376 365.5h1M410 375.5h1M353 376.5h1M383 404.5h1M343 499.5h1M408 511.5h1M396 519.5h1M396 522.5h1M397 526.5h1M393 529.5h1M355 555.5h1M372 560.5h1M396 567.5h1M373 570.5h1M342 581.5h1M320 592.5h1M306 595.5h1M406 595.5h1M336 596.5h1M347 604.5h1M305 605.5h1M348 605.5h1M332 606.5h1M335 612.5h1M414 613.5h1M303 614.5h1M340 617.5h1" stroke="#8f0026" stroke-width="1" fill="none" shape-rendering="crispEdges"/>
<polygon points="351,25 374,25 372,28 366,30 362,33 356,32 352,33 351,30" fill="#cccccc" shape-rendering="crispEdges"/>
<polygon points="387,25 422,25 422,101 421,100 420,95 417.5,91 413.75,87.5 411.25,82.5 408,77.5 406.25,72.5 404.4,67.5 405,62.5 408,57.5 408.75,52.5 407.5,47.5 403.75,43.75 398.75,41 393.75,36 390,31" fill="#cccccc" shape-rendering="crispEdges"/>
<polyline points="405,64 408,70 412,69.5" fill="none" stroke="#e8a060" stroke-width="1" stroke-linejoin="round"/>
<polyline points="358.5,26 360,29 359.5,31" fill="none" stroke="#6ea6dd" stroke-width="1" stroke-linejoin="round"/>
<polygon points="422,165.5 414,167.5 406.5,168.8 399,170.6 391.5,173 386.5,175 381.5,176 378.4,177.5 375,180.6 372.75,183.75 372,187.5 369.6,190 365,192 361.5,192.5 364,194.4 370,194.4 371.5,195.6 375,193 381.5,191 382.75,188 389,187.5 394,187 397.75,183.75 401.5,180 406.5,177.5 414,177 422,177" fill="#cccccc" shape-rendering="crispEdges"/>
<polygon points="399,198 400,193.75 404,192 407.75,192.5 410,195.6 411.5,198.75 407.75,201 404,202.5 401,200.6" fill="#cccccc" shape-rendering="crispEdges"/>
<polygon points="389,190 393,190.5 397,192.5 399,196 397,194 393,192" fill="#cccccc" shape-rendering="crispEdges"/>
<polygon points="298,198.6 312,200 317,199 322,202 324,206 325,210 322,215 320,220 316,223 312,226 311,232 310,237 306,240 306,250 304,260 302,266 300,270 300,290 298,290" fill="#cccccc" shape-rendering="crispEdges"/>
<polygon points="321,220 324,219 323,223 320,225 319,224" fill="#cccccc" shape-rendering="crispEdges"/>
<polygon points="298,316 303,316.5 308.5,317.5 321,318.75 333.5,318 338,316.5 342.25,315 352.25,314.4 360.6,314.4 368.5,317 373.5,319.4 378.5,323.75 386,328.75 392,331 396,333.5 399,335.6 397.5,338 397,340 396.5,345 396,350 394,354 392,358 391,364 391,378 389.75,391 387.25,401 384,410 384.75,412.5 386,418.75 387.25,420 391,427.5 397.25,435 403.5,441.25 409.75,446.25 416,450.6 422,455 422,476.25 416,476.9 406,475 403.5,478.75 399.75,473 398.5,470 395,467 393.5,466.25 396,470 394.75,472.5 388.5,471.25 386,467.5 388.5,463.75 388.5,460 383.5,455 377.25,450 369.75,446.9 366,442.5 362,439 358,436 356.5,436.5 360,440.5 362.9,443.75 358.5,447.5 354.75,442.5 348.5,441.25 344,437.5 342.9,430 345.4,421.9 341.6,419.4 344.75,415 343.5,413.75 336,407.5 328.5,401 323.5,394.5 316,387.5 312.25,378 311,376 308.5,372.5 304.75,370 298,368.75" fill="#cccccc" shape-rendering="crispEdges"/>
<polygon points="422,107.5 414,107.5 411.5,111 405,115 399,119 393,122.5 388,124 384,130 378,134 371.5,137.5 369,142.5 364,146 359,147 358,150 354,154 353,159 348,161 343,162 336.5,162 336.5,165 343,165 346.5,164 354,163 363,165 365,167.5 374,168 376.5,164 381.5,161 385,160 386.5,164 393,165 399,164 401.5,160 404,156 409,155 415,154 422,155 422,149 414,150 406.5,151 401.5,154 396.5,155 399,152 404,150 409,148 414,147.5 422,145.6" fill="#808080" shape-rendering="crispEdges"/>
<path d="M358 147.5h3M360 146.5h2M342 157.5h2M354 170.5h3M355 171.5h4M357 172.5h2M344 170.5h1M364 168.5h2M375 170.5h1M395 154.5h1M409 157.5h2M401 165.5h2M386 157.5h1M350 158.5h2M346 160.5h1M372 170.5h2M392 167.5h1M413 157.5h1M417 156.5h2M406 159.5h1M383 163.5h1M379 165.5h1M397 160.5h1M412 105.5h2M409 109.5h1M403 114.5h1M396 117.5h2M383 127.5h1M376 132.5h1M366 141.5h1M361 144.5h1" stroke="#808080" stroke-width="1" shape-rendering="crispEdges"/>
<path d="M402 124.5h1M388 149.5h1M373 137.5h1M391 126.5h1M420 129.5h1M419 136.5h1M380 150.5h1M394 158.5h1M404 152.5h2M408 149.5h1M367 160.5h1M359 155.5h1M411 146.5h2M398 153.5h1" stroke="#fedc80" stroke-width="1" shape-rendering="crispEdges"/>
<polygon points="327,85 331,83 334,81 336,78.5 338,77 340,76 341,77.5 339,80 338.5,84 340,88 339,92.5 337,96 334,96 331,98.5 329,102 327.5,100 328.5,96 326,93 325.5,89" fill="#808080" shape-rendering="crispEdges"/>
<path d="M306 87.5h1M307 89.5h1M305 90.5h2M309 84.5h1M342 89.5h1M343 75.5h2M345 78.5h1M329 105.5h2M331 107.5h1M388 102.5h2M390 105.5h1M389 107.5h2M342 79.5h1M344 63.5h2M343 66.5h1M347 68.5h1M340 69.5h1M352 86.5h2M401 103.5h1M385 106.5h1" stroke="#808080" stroke-width="1" shape-rendering="crispEdges"/>
<polygon points="385,621 389,619 394,618 396,622 393,626 390,629 387,627 384,624" fill="#808080" shape-rendering="crispEdges"/>
<polygon points="299,540 303,539 305,540 310,540.4 310,541.6 304,542 302,543 299,542" fill="#808080" shape-rendering="crispEdges"/>
<path d="M312 542.5h2M317 542.5h1M320 543.5h3M326 542.5h2M330 543.5h2M335 544.5h2M343 542.5h1M349 541.5h2M299 546.5h3M306 527.5h4M312 526.5h2M316 530.5h2M299 564.5h2M314 513.5h1M299 530.5h1" stroke="#808080" stroke-width="1" shape-rendering="crispEdges"/>
<polygon points="305,589 308,588 311,590 312,593 309,594 307,594" fill="#808080" shape-rendering="crispEdges"/>
<polygon points="299,581 302,580 305,582 306,586 303,587 300,585" fill="#808080" shape-rendering="crispEdges"/>
<path d="M301 578.5h2M304 579.5h1M303 588.5h2M309 586.5h1M300 576.5h1M392 617.5h2M395 619.5h1M383 622.5h1M389 630.5h1" stroke="#808080" stroke-width="1" shape-rendering="crispEdges"/>
<polyline points="347.25,316.25 337.25,321.25 326,326.25 314.75,329.4 311,326.25" fill="none" stroke="#6ea6dd" stroke-width="1" stroke-linejoin="round"/>
<polyline points="374.75,318.75 371,328.75 362.25,333.75 355,341 348.5,348.75 339.75,346.25 343.5,340.6 333.5,344.4 326,346.25 322,342 318.5,337.5" fill="none" stroke="#6ea6dd" stroke-width="1" stroke-linejoin="round"/>
<polyline points="361,357.5 366,367.5 373.5,370 381,366.25 386,368.75 391,368.5" fill="none" stroke="#6ea6dd" stroke-width="1" stroke-linejoin="round"/>
<polyline points="337.25,381.25 346,375 358.5,373.75 366,376.5 371,375 381,371.25 391,378" fill="none" stroke="#6ea6dd" stroke-width="1" stroke-linejoin="round"/>
<polyline points="303,316 299,324 300,330" fill="none" stroke="#6ea6dd" stroke-width="1" stroke-linejoin="round"/>
<polyline points="318.5,350 312,352 309,358 303,356" fill="none" stroke="#6ea6dd" stroke-width="1" stroke-linejoin="round"/>
<polyline points="324,372 316,380 311,376" fill="none" stroke="#6ea6dd" stroke-width="1" stroke-linejoin="round"/>
<polyline points="357.25,393.75 363.5,396.25 374.75,393 386,395.6" fill="none" stroke="#6ea6dd" stroke-width="1" stroke-linejoin="round"/>
<polyline points="341,396.25 349,400 357.25,403.75 361,409 364.75,415" fill="none" stroke="#6ea6dd" stroke-width="1" stroke-linejoin="round"/>
<polyline points="329,390 334,388 337,394 340,390" fill="none" stroke="#6ea6dd" stroke-width="1" stroke-linejoin="round"/>
<polyline points="349,418.75 348.2,423 348.5,427.5 354.75,433.75" fill="none" stroke="#6ea6dd" stroke-width="1" stroke-linejoin="round"/>
<polyline points="362.25,428 369.75,428 376,423.75" fill="none" stroke="#6ea6dd" stroke-width="1" stroke-linejoin="round"/>
<polyline points="387.5,423 391,428" fill="none" stroke="#6ea6dd" stroke-width="1" stroke-linejoin="round"/>
<polyline points="397.25,437 394,443 388,449 393,452 398,457 404,461" fill="none" stroke="#6ea6dd" stroke-width="1" stroke-linejoin="round"/>
<polyline points="388,449 396,446.5 403,447.5" fill="none" stroke="#6ea6dd" stroke-width="1" stroke-linejoin="round"/>
<polyline points="412,449 411,456 414,462" fill="none" stroke="#6ea6dd" stroke-width="1" stroke-linejoin="round"/>
<polyline points="370,440 376,438.5 381,439" fill="none" stroke="#6ea6dd" stroke-width="1" stroke-linejoin="round"/>
<polyline points="341.5,405 348,411 353,415" fill="none" stroke="#6ea6dd" stroke-width="1" stroke-linejoin="round"/>
<polyline points="360,405 364,411 366,416" fill="none" stroke="#6ea6dd" stroke-width="1" stroke-linejoin="round"/>
<polyline points="360.6,314.4 360.6,338.75" fill="none" stroke="#7c7c7c" stroke-width="1" stroke-linejoin="round"/>
<polyline points="359.75,346 362.25,352.5 361,358.75 351,368.75 341,376 336,378" fill="none" stroke="#7c7c7c" stroke-width="1" stroke-linejoin="round"/>
<polyline points="303.5,323.75 315,322 331,322.5 334.75,327 346,322.5 353.5,326.25 360.6,333.75" fill="none" stroke="#7c7c7c" stroke-width="1" stroke-linejoin="round"/>
<polyline points="331,322.5 324.75,328.75 321,335 324.75,346.25 333.5,348.75 339.75,353.75" fill="none" stroke="#7c7c7c" stroke-width="1" stroke-linejoin="round"/>
<polyline points="299,331 306,334 313,337 321,335" fill="none" stroke="#7c7c7c" stroke-width="1" stroke-linejoin="round"/>
<polyline points="313,337 310,345 316,352 318,361" fill="none" stroke="#7c7c7c" stroke-width="1" stroke-linejoin="round"/>
<polyline points="299,345 305,348 310,345" fill="none" stroke="#7c7c7c" stroke-width="1" stroke-linejoin="round"/>
<polyline points="305,348 307,356 313,362 324,365" fill="none" stroke="#7c7c7c" stroke-width="1" stroke-linejoin="round"/>
<polyline points="324,362 332,366 344,358.75" fill="none" stroke="#7c7c7c" stroke-width="1" stroke-linejoin="round"/>
<polyline points="324,370 330,372 336,378 334,386 327,392 320,388" fill="none" stroke="#7c7c7c" stroke-width="1" stroke-linejoin="round"/>
<polyline points="336,378 344,381 356,380.6 356,373 361,366" fill="none" stroke="#7c7c7c" stroke-width="1" stroke-linejoin="round"/>
<polyline points="356,380.6 359,381 359.75,390 366,400 374.75,412.5 384,418.75" fill="none" stroke="#7c7c7c" stroke-width="1" stroke-linejoin="round"/>
<polyline points="334.75,381.25 341.6,385 342.9,397.5 348,404 352,413" fill="none" stroke="#7c7c7c" stroke-width="1" stroke-linejoin="round"/>
<polyline points="341.6,385 352,384 359.75,390" fill="none" stroke="#7c7c7c" stroke-width="1" stroke-linejoin="round"/>
<polyline points="342.9,397.5 354,396 362,400.5 357,405 350,409" fill="none" stroke="#7c7c7c" stroke-width="1" stroke-linejoin="round"/>
<polyline points="349,420.5 356,424 363,427.5 366,433 364,438" fill="none" stroke="#7c7c7c" stroke-width="1" stroke-linejoin="round"/>
<polyline points="377,423 376,432 372,438 368,441.5" fill="none" stroke="#7c7c7c" stroke-width="1" stroke-linejoin="round"/>
<polyline points="383.5,423.5 382.5,431 379.5,437 381,441 392,443 395,446 392,451 388,456" fill="none" stroke="#7c7c7c" stroke-width="1" stroke-linejoin="round"/>
<polyline points="366,433 369,436 372,438 378,441 381,441" fill="none" stroke="#7c7c7c" stroke-width="1" stroke-linejoin="round"/>
<polyline points="368,441.5 370,445 378,447 385,451 391,455.5 396,455" fill="none" stroke="#7c7c7c" stroke-width="1" stroke-linejoin="round"/>
<polyline points="403,447.5 408,452 415,456 421,458.5" fill="none" stroke="#7c7c7c" stroke-width="1" stroke-linejoin="round"/>
<polyline points="404,463.75 410,462 421,466" fill="none" stroke="#7c7c7c" stroke-width="1" stroke-linejoin="round"/>
<polyline points="352,432 356,435 355,439 358,442" fill="none" stroke="#7c7c7c" stroke-width="1" stroke-linejoin="round"/>
<polyline points="307,199 307.4,208 306.5,214 303.5,218.5 298,220.5" fill="none" stroke="#7c7c7c" stroke-width="0.8" stroke-linejoin="round"/>
<polyline points="399,335.6 393,337.5 386,339.4 378.5,340.6 371,343 366,341 363.5,338.5 361,340 358.5,343.75 357.25,348.75 351,352.5 344.75,355.6 343.5,358 339.75,353.75 336,356.9 332.25,360 324,361.9 324,370 321,372.5 318.5,375.6 311,376.25" fill="none" stroke="#1e1e1e" stroke-width="1.1" stroke-linejoin="round"/>
<polyline points="298,358 304,358.75 303,363.75 304.75,368.75" fill="none" stroke="#1e1e1e" stroke-width="1.1" stroke-linejoin="round"/>
<polyline points="344,417 347.9,413 354.75,417 362.25,418.75 366.6,417 373.5,418.75 376.6,422.5 382.25,423.5 387.25,422.5 387.9,419.4" fill="none" stroke="#1e1e1e" stroke-width="1.1" stroke-linejoin="round"/>
<polyline points="408.5,447.5 407.5,449.4 404.75,448.75 404,446.9 402.9,450 402.25,457.5 407.25,460 404,463.75 404,469.4 401,473.75 403.5,479.4" fill="none" stroke="#1e1e1e" stroke-width="1.1" stroke-linejoin="round"/>
</g>
<g shape-rendering="crispEdges" fill="#000">
<rect x="298" y="25" width="124" height="1"/><rect x="298" y="644" width="124" height="1"/><rect x="298" y="25" width="1" height="620"/><rect x="421" y="25" width="1" height="620"/>
<rect x="291" y="644" width="7" height="1"/>
<rect x="295" y="624" width="3" height="1"/>
<rect x="295" y="603" width="3" height="1"/>
<rect x="295" y="583" width="3" height="1"/>
<rect x="295" y="562" width="3" height="1"/>
<rect x="291" y="541" width="7" height="1"/>
<rect x="295" y="521" width="3" height="1"/>
<rect x="295" y="500" width="3" height="1"/>
<rect x="295" y="479" width="3" height="1"/>
<rect x="295" y="459" width="3" height="1"/>
<rect x="291" y="438" width="7" height="1"/>
<rect x="295" y="418" width="3" height="1"/>
<rect x="295" y="397" width="3" height="1"/>
<rect x="295" y="376" width="3" height="1"/>
<rect x="295" y="356" width="3" height="1"/>
<rect x="291" y="335" width="7" height="1"/>
<rect x="295" y="314" width="3" height="1"/>
<rect x="295" y="294" width="3" height="1"/>
<rect x="295" y="273" width="3" height="1"/>
<rect x="295" y="252" width="3" height="1"/>
<rect x="291" y="232" width="7" height="1"/>
<rect x="295" y="211" width="3" height="1"/>
<rect x="295" y="191" width="3" height="1"/>
<rect x="295" y="170" width="3" height="1"/>
<rect x="295" y="149" width="3" height="1"/>
<rect x="291" y="129" width="7" height="1"/>
<rect x="295" y="108" width="3" height="1"/>
<rect x="295" y="87" width="3" height="1"/>
<rect x="295" y="67" width="3" height="1"/>
<rect x="295" y="46" width="3" height="1"/>
<rect x="291" y="25" width="7" height="1"/>
<rect x="298" y="645" width="1" height="3"/>
<rect x="318" y="645" width="1" height="3"/>
<rect x="339" y="645" width="1" height="3"/>
<rect x="359" y="645" width="1" height="6"/>
<rect x="380" y="645" width="1" height="3"/>
<rect x="401" y="645" width="1" height="3"/>
<rect x="421" y="645" width="1" height="3"/>
</g>
<text font-size="12" text-anchor="middle" transform="translate(289,642.8) rotate(-90)">0°</text>
<text font-size="12" text-anchor="middle" transform="translate(289,539) rotate(-90)">5°</text>
<text font-size="12" text-anchor="middle" transform="translate(289,437.3) rotate(-90)">10°</text>
<text font-size="12" text-anchor="middle" transform="translate(289,334) rotate(-90)">15°</text>
<text font-size="12" text-anchor="middle" transform="translate(289,231) rotate(-90)">20°</text>
<text font-size="12" text-anchor="middle" transform="translate(289,128) rotate(-90)">25°</text>
<text font-size="12" text-anchor="middle" transform="translate(289,24.2) rotate(-90)">30°</text>
<text font-size="12" x="347.2" y="664" textLength="26.4" lengthAdjust="spacing">-85°</text>
<g shape-rendering="crispEdges"><rect x="0.5" y="675.5" width="719" height="124" fill="#ffffcc" stroke="#000" stroke-width="1"/>
<rect x="48" y="692" width="16" height="18" fill="#ffffcc"/>
<rect x="64" y="692" width="16" height="18" fill="#fffbc3"/>
<rect x="80" y="692" width="16" height="18" fill="#fff8ba"/>
<rect x="96" y="692" width="16" height="18" fill="#fff4b1"/>
<rect x="112" y="692" width="16" height="18" fill="#fff0a8"/>
<rect x="128" y="692" width="16" height="18" fill="#ffec9f"/>
<rect x="144" y="692" width="16" height="18" fill="#ffe896"/>
<rect x="160" y="692" width="16" height="18" fill="#ffe48e"/>
<rect x="176" y="692" width="16" height="18" fill="#fee085"/>
<rect x="192" y="692" width="16" height="18" fill="#fedc7c"/>
<rect x="208" y="692" width="16" height="18" fill="#fed774"/>
<rect x="224" y="692" width="16" height="18" fill="#fecf6b"/>
<rect x="240" y="692" width="16" height="18" fill="#fec763"/>
<rect x="256" y="692" width="16" height="18" fill="#febf5a"/>
<rect x="272" y="692" width="16" height="18" fill="#feb751"/>
<rect x="288" y="692" width="16" height="18" fill="#feaf4b"/>
<rect x="304" y="692" width="16" height="18" fill="#fea847"/>
<rect x="320" y="692" width="16" height="18" fill="#fea044"/>
<rect x="336" y="692" width="16" height="18" fill="#fd9841"/>
<rect x="352" y="692" width="16" height="18" fill="#fd913e"/>
<rect x="368" y="692" width="16" height="18" fill="#fd873a"/>
<rect x="384" y="692" width="16" height="18" fill="#fd7a36"/>
<rect x="400" y="692" width="16" height="18" fill="#fc6d33"/>
<rect x="416" y="692" width="16" height="18" fill="#fc602f"/>
<rect x="432" y="692" width="16" height="18" fill="#fc532b"/>
<rect x="448" y="692" width="16" height="18" fill="#f94728"/>
<rect x="464" y="692" width="16" height="18" fill="#f43d25"/>
<rect x="480" y="692" width="16" height="18" fill="#ef3222"/>
<rect x="496" y="692" width="16" height="18" fill="#e92720"/>
<rect x="512" y="692" width="16" height="18" fill="#e41d1d"/>
<rect x="528" y="692" width="16" height="18" fill="#dd161e"/>
<rect x="544" y="692" width="16" height="18" fill="#d51120"/>
<rect x="560" y="692" width="16" height="18" fill="#ce0b22"/>
<rect x="576" y="692" width="16" height="18" fill="#c60624"/>
<rect x="592" y="692" width="16" height="18" fill="#be0126"/>
<rect x="608" y="692" width="16" height="18" fill="#b20026"/>
<rect x="624" y="692" width="16" height="18" fill="#a60026"/>
<rect x="640" y="692" width="16" height="18" fill="#990026"/>
<rect x="656" y="692" width="16" height="18" fill="#8d0026"/>
<rect x="672" y="692" width="17" height="18" fill="#800026"/>
<rect x="48" y="710" width="1" height="3" fill="#000"/>
<rect x="64" y="710" width="1" height="3" fill="#000"/>
<rect x="80" y="710" width="1" height="3" fill="#000"/>
<rect x="96" y="710" width="1" height="3" fill="#000"/>
<rect x="112" y="710" width="1" height="3" fill="#000"/>
<rect x="128" y="710" width="1" height="3" fill="#000"/>
<rect x="144" y="710" width="1" height="3" fill="#000"/>
<rect x="160" y="710" width="1" height="3" fill="#000"/>
<rect x="176" y="710" width="1" height="3" fill="#000"/>
<rect x="192" y="710" width="1" height="3" fill="#000"/>
<rect x="208" y="710" width="1" height="3" fill="#000"/>
<rect x="224" y="710" width="1" height="3" fill="#000"/>
<rect x="240" y="710" width="1" height="3" fill="#000"/>
<rect x="256" y="710" width="1" height="3" fill="#000"/>
<rect x="272" y="710" width="1" height="3" fill="#000"/>
<rect x="288" y="710" width="1" height="3" fill="#000"/>
<rect x="304" y="710" width="1" height="3" fill="#000"/>
<rect x="320" y="710" width="1" height="3" fill="#000"/>
<rect x="336" y="710" width="1" height="3" fill="#000"/>
<rect x="352" y="710" width="1" height="3" fill="#000"/>
<rect x="368" y="710" width="1" height="3" fill="#000"/>
<rect x="384" y="710" width="1" height="3" fill="#000"/>
<rect x="400" y="710" width="1" height="3" fill="#000"/>
<rect x="416" y="710" width="1" height="3" fill="#000"/>
<rect x="432" y="710" width="1" height="3" fill="#000"/>
<rect x="448" y="710" width="1" height="3" fill="#000"/>
<rect x="464" y="710" width="1" height="3" fill="#000"/>
<rect x="480" y="710" width="1" height="3" fill="#000"/>
<rect x="496" y="710" width="1" height="3" fill="#000"/>
<rect x="512" y="710" width="1" height="3" fill="#000"/>
<rect x="528" y="710" width="1" height="3" fill="#000"/>
<rect x="544" y="710" width="1" height="3" fill="#000"/>
<rect x="560" y="710" width="1" height="3" fill="#000"/>
<rect x="576" y="710" width="1" height="3" fill="#000"/>
<rect x="592" y="710" width="1" height="3" fill="#000"/>
<rect x="608" y="710" width="1" height="3" fill="#000"/>
<rect x="624" y="710" width="1" height="3" fill="#000"/>
<rect x="640" y="710" width="1" height="3" fill="#000"/>
<rect x="656" y="710" width="1" height="3" fill="#000"/>
<rect x="672" y="710" width="1" height="3" fill="#000"/>
<rect x="688" y="710" width="1" height="3" fill="#000"/>
</g>
<text font-size="11" x="43.2" y="724">0</text>
<text font-size="11" x="101.6" y="724" textLength="18" lengthAdjust="spacing">0.1</text>
<text font-size="11" x="165.6" y="724" textLength="18" lengthAdjust="spacing">0.2</text>
<text font-size="11" x="229.6" y="724" textLength="18" lengthAdjust="spacing">0.3</text>
<text font-size="11" x="293.6" y="724" textLength="18" lengthAdjust="spacing">0.4</text>
<text font-size="11" x="357.6" y="724" textLength="18" lengthAdjust="spacing">0.5</text>
<text font-size="11" x="421.6" y="724" textLength="18" lengthAdjust="spacing">0.6</text>
<text font-size="11" x="485.6" y="724" textLength="18" lengthAdjust="spacing">0.7</text>
<text font-size="11" x="549.6" y="724" textLength="18" lengthAdjust="spacing">0.8</text>
<text font-size="11" x="613.6" y="724" textLength="18" lengthAdjust="spacing">0.9</text>
<text font-size="11" x="685.6" y="724">1</text>
<text font-size="11" font-weight="bold" x="48" y="743" textLength="283.5" lengthAdjust="spacing">ABI L2+ Aerosol Optical Depth at 550 nm (1)</text>
<text font-size="11" x="48" y="754" textLength="618" lengthAdjust="spacing">Experimental NRT AOD daily composite created from ABI L2 data from GOES-19. Fields generated by Atlantic</text>
<text font-size="11" x="48" y="765" textLength="186" lengthAdjust="spacing">OceanWatch node at NOAA/AOML</text>
<text font-size="11" x="48" y="776" textLength="138" lengthAdjust="spacing">(2026-03-15T00:00:00Z)</text>
<text font-size="11" x="48" y="787" textLength="271.5" lengthAdjust="spacing">Data courtesy of USDOC/NOAA/OAR/AOML/PHOD</text>
</svg></body></html>
